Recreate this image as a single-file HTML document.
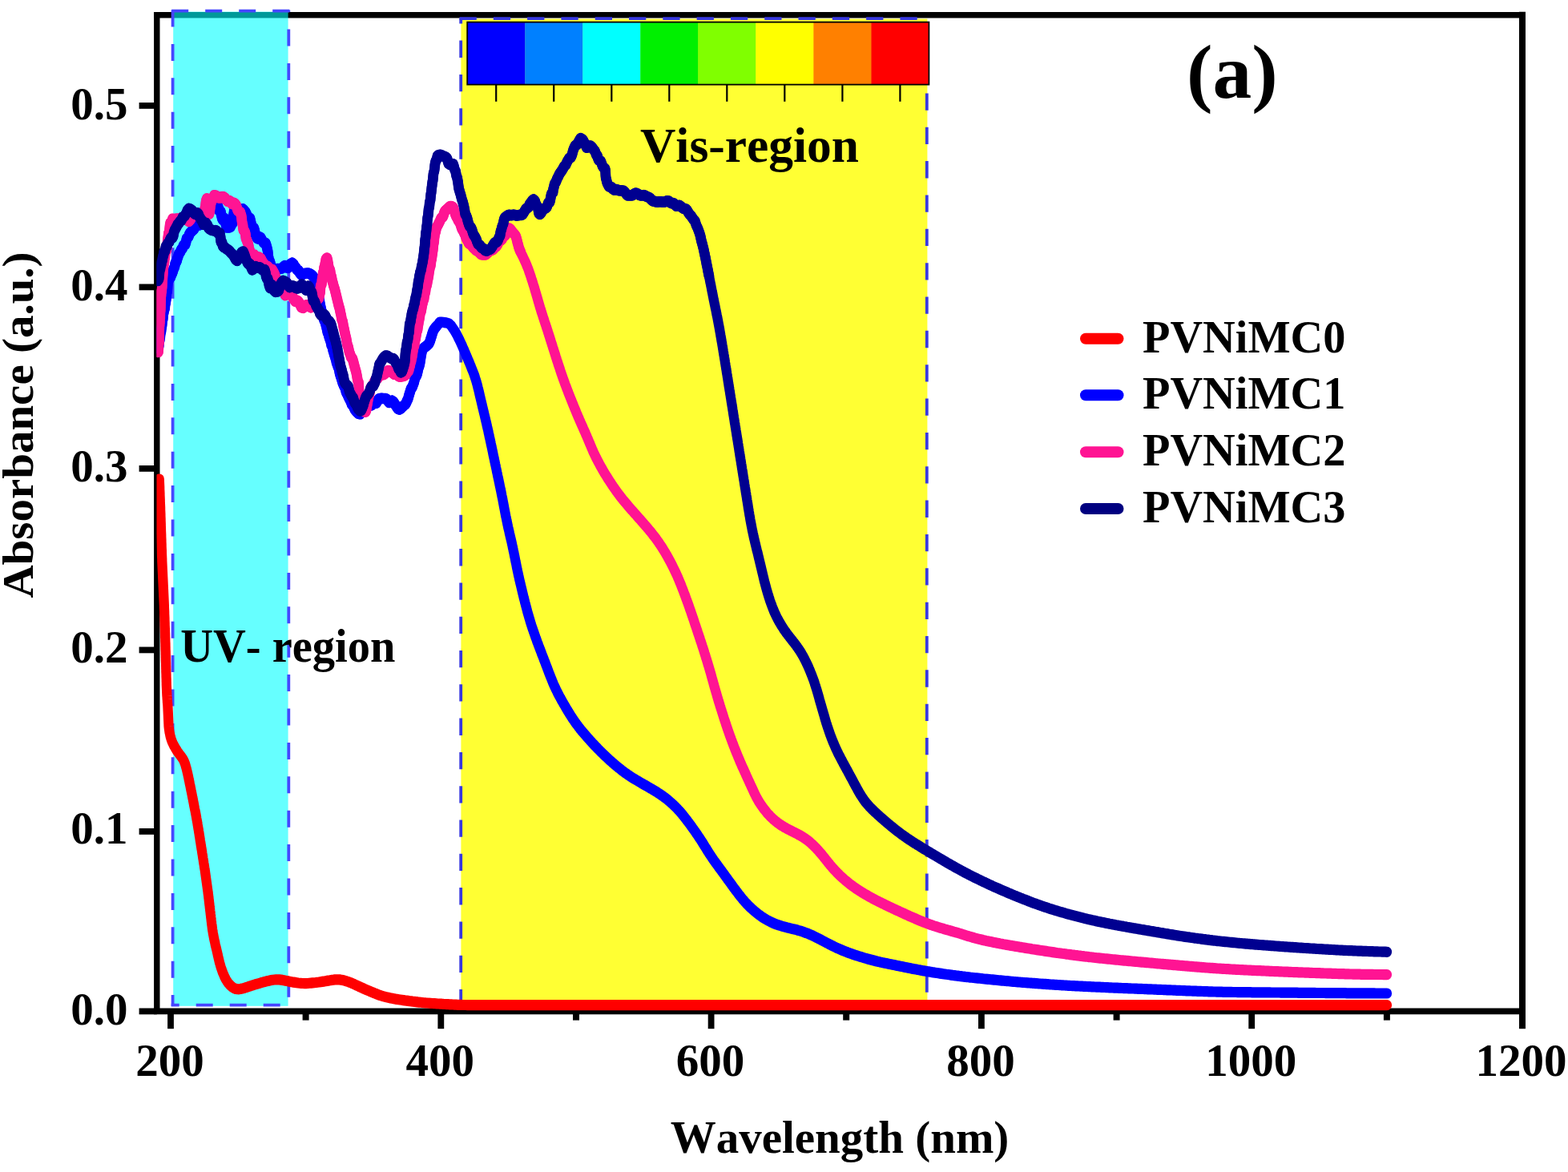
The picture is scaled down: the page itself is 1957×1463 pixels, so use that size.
<!DOCTYPE html>
<html lang="en">
<head>
<meta charset="utf-8">
<title>UV-Vis absorbance spectra (a)</title>
<style>
html,body{margin:0;padding:0;background:#fff;}
body{width:1957px;height:1463px;overflow:hidden;}
svg{display:block;}
text{font-family:"Liberation Serif",serif;font-weight:bold;fill:#000;font-kerning:none;}
.tick{font-size:57px;}
.lbl{font-size:57px;}
.leg{font-size:57px;}
.curve{fill:none;stroke-linecap:round;stroke-linejoin:round;stroke-width:13;}
</style>
</head>
<body>
<svg width="1957" height="1463" viewBox="0 0 1957 1463" role="img" aria-label="UV-Vis absorbance spectra of PVNiMC0-3">
<rect x="0" y="0" width="1957" height="1463" fill="#ffffff"/>

<g id="frame" fill="none" stroke="#000" stroke-linecap="square">
<line x1="195.8" y1="18.7" x2="1900.0" y2="18.7" stroke-width="7.6"/>
<line x1="195.8" y1="1262.4" x2="1900.0" y2="1262.4" stroke-width="7.8"/>
<line x1="195.8" y1="18.7" x2="195.8" y2="1262.4" stroke-width="7.4"/>
<line x1="1900.0" y1="18.7" x2="1900.0" y2="1262.4" stroke-width="8.0"/>
</g>
<g id="ticks" stroke="#000" stroke-width="7.6" stroke-linecap="butt">
<line x1="213.0" y1="1262.4" x2="213.0" y2="1284.2" stroke-width="7.8"/>
<line x1="550.3" y1="1262.4" x2="550.3" y2="1284.2" stroke-width="7.8"/>
<line x1="887.6" y1="1262.4" x2="887.6" y2="1284.2" stroke-width="7.8"/>
<line x1="1224.9" y1="1262.4" x2="1224.9" y2="1284.2" stroke-width="7.8"/>
<line x1="1562.2" y1="1262.4" x2="1562.2" y2="1284.2" stroke-width="7.8"/>
<line x1="1900.0" y1="1262.4" x2="1900.0" y2="1284.2" stroke-width="8.0"/>
<line x1="381.6" y1="1262.4" x2="381.6" y2="1273.6" stroke-width="8"/>
<line x1="719.0" y1="1262.4" x2="719.0" y2="1273.6" stroke-width="8"/>
<line x1="1056.2" y1="1262.4" x2="1056.2" y2="1273.6" stroke-width="8"/>
<line x1="1393.6" y1="1262.4" x2="1393.6" y2="1273.6" stroke-width="8"/>
<line x1="1730.9" y1="1262.4" x2="1730.9" y2="1273.6" stroke-width="8"/>
<line x1="173.6" y1="1262.4" x2="195.8" y2="1262.4" stroke-width="7.8"/>
<line x1="173.6" y1="1037.9" x2="195.8" y2="1037.9" stroke-width="7.8"/>
<line x1="173.6" y1="811.4" x2="195.8" y2="811.4" stroke-width="7.8"/>
<line x1="173.6" y1="584.9" x2="195.8" y2="584.9" stroke-width="7.8"/>
<line x1="173.6" y1="358.4" x2="195.8" y2="358.4" stroke-width="7.8"/>
<line x1="173.6" y1="131.9" x2="195.8" y2="131.9" stroke-width="7.8"/>
</g>
<g id="regions">
<rect x="216.2" y="14.6" width="143.4" height="1241.2" fill="#00ffff" fill-opacity="0.6"/>
<line x1="215.6" y1="12.5" x2="215.6" y2="1256" stroke="#4646ff" stroke-width="3.8" stroke-dasharray="21 21.40" stroke-dashoffset="0.00"/>
<line x1="360.3" y1="12.5" x2="360.3" y2="1256" stroke="#4646ff" stroke-width="3.8" stroke-dasharray="21 21.40" stroke-dashoffset="18.40"/>
<line x1="213.7" y1="13.6" x2="362.2" y2="13.6" stroke="#4646ff" stroke-width="3.8" stroke-dasharray="21 21.00" stroke-dashoffset="41.50"/>
<line x1="213.7" y1="1254.6" x2="362.2" y2="1254.6" stroke="#4646ff" stroke-width="3.8" stroke-dasharray="21 21.00" stroke-dashoffset="11.00"/>
<rect x="575.4" y="23.5" width="582" height="1226.5" fill="#ffff00" fill-opacity="0.8"/>
<line x1="575.2" y1="23" x2="575.2" y2="1250" stroke="#3838e0" stroke-width="3.8" stroke-dasharray="21.3 21.00" stroke-dashoffset="14.70"/>
<line x1="1156.8" y1="23" x2="1156.8" y2="1250" stroke="#3838e0" stroke-width="3.8" stroke-dasharray="21.3 21.05" stroke-dashoffset="33.65"/>
<line x1="573.5" y1="23.2" x2="1158.4" y2="23.2" stroke="#3838e0" stroke-width="3.8" stroke-dasharray="21.3 21.00" stroke-dashoffset="0.00"/>
<line x1="573.5" y1="1250" x2="1158.4" y2="1250" stroke="#3838e0" stroke-width="3.8" stroke-dasharray="21.3 21.00" stroke-dashoffset="0.00"/>
</g>
<g id="colourbar">
<rect x="583.20" y="27.6" width="72.33" height="78.0" fill="#0000ff"/>
<rect x="655.23" y="27.6" width="72.33" height="78.0" fill="#0080ff"/>
<rect x="727.25" y="27.6" width="72.33" height="78.0" fill="#00ffff"/>
<rect x="799.28" y="27.6" width="72.33" height="78.0" fill="#00f000"/>
<rect x="871.30" y="27.6" width="72.33" height="78.0" fill="#80ff00"/>
<rect x="943.33" y="27.6" width="72.33" height="78.0" fill="#ffff00"/>
<rect x="1015.35" y="27.6" width="72.33" height="78.0" fill="#ff8000"/>
<rect x="1087.38" y="27.6" width="72.33" height="78.0" fill="#ff0000"/>
<rect x="583.2" y="27.6" width="576.2" height="78.0" fill="none" stroke="#000" stroke-width="1.8"/>
<line x1="619.2" y1="105.6" x2="619.2" y2="126.8" stroke="#000" stroke-width="2.2"/>
<line x1="691.2" y1="105.6" x2="691.2" y2="126.8" stroke="#000" stroke-width="2.2"/>
<line x1="763.3" y1="105.6" x2="763.3" y2="126.8" stroke="#000" stroke-width="2.2"/>
<line x1="835.3" y1="105.6" x2="835.3" y2="126.8" stroke="#000" stroke-width="2.2"/>
<line x1="907.3" y1="105.6" x2="907.3" y2="126.8" stroke="#000" stroke-width="2.2"/>
<line x1="979.3" y1="105.6" x2="979.3" y2="126.8" stroke="#000" stroke-width="2.2"/>
<line x1="1051.4" y1="105.6" x2="1051.4" y2="126.8" stroke="#000" stroke-width="2.2"/>
<line x1="1123.4" y1="105.6" x2="1123.4" y2="126.8" stroke="#000" stroke-width="2.2"/>
</g>
<clipPath id="plotclip"><rect x="195.5" y="19" width="1705" height="1250"/></clipPath>
<g id="curves" clip-path="url(#plotclip)"><g transform="scale(0.93,1)">
<g stroke="#ff0000">
<path class="curve" style="stroke-width:13.2" d="M213.8,598.0 213.8,600.0 213.9,602.0 214.0,604.0 214.1,606.0 214.2,608.0 214.2,610.0 214.3,612.0 214.4,614.0 214.5,616.0 214.5,618.0 214.6,620.0 214.7,622.0 214.8,624.0 214.8,626.0 214.9,628.0 215.0,630.0 215.1,632.0 215.2,634.0 215.2,636.0 215.3,638.0 215.4,640.0 215.5,642.0 215.5,644.0 215.6,646.1 215.7,648.1 215.7,650.1 215.8,652.1 215.9,654.1 215.9,656.1 216.0,658.1 216.1,660.1 216.1,662.1 216.2,664.1 216.3,666.1 216.4,668.1 216.4,670.1 216.5,672.1 216.6,674.1 216.6,676.1 216.7,678.1 216.8,680.1 216.8,682.1 216.9,684.1 217.0,686.1 217.1,688.1 217.1,690.1 217.2,692.1 217.3,694.1 217.4,696.1 217.5,698.1 217.5,700.1 217.6,702.1 217.7,704.1 217.8,706.1 217.9,708.1 218.0,710.1 218.1,712.1 218.2,714.1 218.3,716.1 218.4,718.1 218.5,720.1 218.6,722.1 218.7,724.1 218.8,726.1 218.9,728.1 219.0,730.1 219.1,732.1 219.2,734.1 219.3,736.1 219.4,738.1 219.5,740.1 219.6,742.1 219.7,744.1 219.8,746.1 219.9,748.1 220.0,750.1 220.1,752.1 220.2,754.2 220.3,756.2 220.3,758.2 220.4,760.2 220.5,762.2 220.6,764.2 220.6,766.2 220.7,768.2 220.8,770.2 220.9,772.2 220.9,774.2 221.0,776.2 221.1,778.2 221.1,780.2 221.2,782.2 221.3,784.2 221.4,786.2 221.4,788.2 221.5,790.2 221.6,792.2 221.6,794.2 221.7,796.2 221.8,798.2 221.8,800.2 221.9,802.2 222.0,804.2 222.0,806.2 222.1,808.2 222.1,810.2 222.2,812.2 222.3,814.2 222.3,816.2 222.4,818.2 222.4,820.2 222.5,822.2 222.5,824.2 222.6,826.2 222.7,828.2 222.7,830.2 222.8,832.2 222.8,834.2 222.9,836.3 222.9,838.3 223.0,840.3 223.1,842.3 223.1,844.3 223.2,846.3 223.3,848.3 223.3,850.3 223.4,852.3 223.4,854.3 223.5,856.3 223.6,858.3 223.7,860.3 223.8,862.3 223.9,864.3 224.0,866.3 224.1,868.3 224.3,870.3 224.4,872.3 224.6,874.3 224.7,876.3 224.9,878.3 225.1,880.3 225.2,882.3 225.3,884.3 225.4,886.3 225.5,888.3 225.6,890.3 225.7,892.3 225.8,894.3 225.9,896.3 226.0,898.3 226.1,900.3 226.2,902.3 226.3,904.3 226.4,906.3 226.6,908.3 226.9,910.3 227.2,912.2 227.5,914.2 228.0,916.2 228.4,918.1 228.9,920.1 229.5,922.0 230.2,923.9 230.9,925.8 231.8,927.6 232.7,929.4 233.7,931.2 234.8,932.9 235.9,934.7 237.0,936.4 238.2,938.1 239.4,939.7 240.7,941.3 242.0,942.9 243.3,944.5 244.5,946.1 245.7,947.8 246.7,949.5 247.5,951.4 248.3,953.2 248.9,955.1 249.5,957.1 250.1,959.0 250.6,960.9 251.1,962.9 251.6,964.8 252.1,966.8 252.5,968.7 253.0,970.7 253.4,972.7 253.9,974.6 254.3,976.6 254.7,978.6 255.2,980.5 255.6,982.5 256.0,984.4 256.4,986.4 256.9,988.4 257.3,990.3 257.7,992.3 258.1,994.3 258.5,996.2 259.0,998.2 259.4,1000.2 259.8,1002.1 260.2,1004.1 260.6,1006.1 261.0,1008.0 261.4,1010.0 261.9,1012.0 262.3,1013.9 262.7,1015.9 263.1,1017.9 263.5,1019.8 263.8,1021.8 264.2,1023.8 264.6,1025.7 265.0,1027.7 265.3,1029.7 265.7,1031.7 266.0,1033.6 266.4,1035.6 266.7,1037.6 267.1,1039.6 267.4,1041.6 267.7,1043.5 268.1,1045.5 268.4,1047.5 268.7,1049.5 269.1,1051.5 269.4,1053.4 269.7,1055.4 270.1,1057.4 270.4,1059.4 270.8,1061.3 271.1,1063.3 271.4,1065.3 271.8,1067.3 272.1,1069.3 272.4,1071.2 272.8,1073.2 273.1,1075.2 273.4,1077.2 273.8,1079.2 274.1,1081.1 274.4,1083.1 274.8,1085.1 275.1,1087.1 275.4,1089.1 275.7,1091.0 276.0,1093.0 276.3,1095.0 276.6,1097.0 276.9,1099.0 277.2,1101.0 277.5,1102.9 277.8,1104.9 278.1,1106.9 278.4,1108.9 278.7,1110.9 279.0,1112.9 279.2,1114.9 279.5,1116.8 279.8,1118.8 280.0,1120.8 280.3,1122.8 280.5,1124.8 280.8,1126.8 281.0,1128.8 281.3,1130.8 281.5,1132.8 281.8,1134.8 282.0,1136.7 282.3,1138.7 282.5,1140.7 282.8,1142.7 283.0,1144.7 283.3,1146.7 283.5,1148.7 283.8,1150.7 284.0,1152.7 284.3,1154.7 284.6,1156.6 284.8,1158.6 285.1,1160.6 285.5,1162.6 285.8,1164.6 286.2,1166.5 286.6,1168.5 287.0,1170.5 287.4,1172.4 287.9,1174.4 288.4,1176.3 288.8,1178.3 289.3,1180.3 289.8,1182.2 290.3,1184.2 290.8,1186.1 291.3,1188.1 291.8,1190.0 292.2,1192.0 292.7,1193.9 293.2,1195.9 293.7,1197.8 294.2,1199.8 294.7,1201.7 295.3,1203.6 295.9,1205.6 296.5,1207.5 297.2,1209.4 297.9,1211.3 298.6,1213.2 299.4,1215.0 300.3,1216.9 301.1,1218.7 302.0,1220.5 303.0,1222.3 304.1,1224.0 305.2,1225.7 306.5,1227.3 307.9,1228.8 309.4,1230.2 311.0,1231.6 312.7,1232.7 314.5,1233.7 316.5,1234.4 318.5,1234.7 320.6,1234.8 322.7,1234.5 324.8,1234.1 326.9,1233.6 328.9,1233.0 331.0,1232.4 333.0,1231.8 335.1,1231.1 337.1,1230.5 339.2,1229.9 341.2,1229.3 343.3,1228.7 345.4,1228.1 347.4,1227.6 349.5,1227.0 351.5,1226.4 353.6,1225.9 355.7,1225.3 357.8,1224.8 359.9,1224.4 362.0,1224.0 364.1,1223.6 366.2,1223.2 368.3,1223.0 370.5,1222.8 372.6,1222.8 374.8,1222.9 376.9,1223.1 379.0,1223.4 381.1,1223.8 383.2,1224.2 385.3,1224.6 387.5,1225.0 389.6,1225.4 391.7,1225.8 393.8,1226.1 395.9,1226.4 398.1,1226.7 400.2,1227.0 402.3,1227.2 404.5,1227.4 406.6,1227.5 408.8,1227.6 410.9,1227.6 413.1,1227.5 415.2,1227.3 417.4,1227.1 419.5,1226.9 421.6,1226.7 423.8,1226.5 425.9,1226.2 428.1,1226.0 430.2,1225.7 432.3,1225.4 434.5,1225.1 436.6,1224.8 438.7,1224.4 440.8,1224.1 442.9,1223.8 445.1,1223.4 447.2,1223.2 449.3,1222.9 451.5,1222.8 453.6,1222.8 455.8,1222.9 457.9,1223.2 460.0,1223.6 462.1,1224.0 464.2,1224.6 466.2,1225.2 468.2,1225.8 470.2,1226.6 472.2,1227.3 474.2,1228.1 476.2,1229.0 478.1,1229.8 480.1,1230.6 482.0,1231.5 484.0,1232.3 485.9,1233.2 487.9,1234.0 489.9,1234.8 491.8,1235.6 493.8,1236.4 495.8,1237.2 497.8,1238.0 499.8,1238.7 501.8,1239.5 503.8,1240.2 505.8,1241.0 507.8,1241.7 509.8,1242.4 511.9,1243.0 513.9,1243.6 516.0,1244.1 518.1,1244.6 520.2,1245.1 522.3,1245.5 524.4,1245.9 526.5,1246.3 528.6,1246.7 530.7,1247.1 532.8,1247.4 535.0,1247.7 537.1,1248.0 539.2,1248.3 541.4,1248.6 543.5,1248.9 545.6,1249.1 547.8,1249.4 549.9,1249.7 552.0,1249.9 554.2,1250.2 556.3,1250.4 558.5,1250.6 560.6,1250.9 562.7,1251.1 564.9,1251.3 567.0,1251.5 569.2,1251.7 571.3,1251.9 573.5,1252.0 575.6,1252.2 577.8,1252.3 579.9,1252.5 582.1,1252.6 584.2,1252.7 586.4,1252.9 588.5,1253.0 590.7,1253.1 592.8,1253.2 595.0,1253.4 597.1,1253.5 599.3,1253.6 601.4,1253.7 603.6,1253.8 605.7,1253.9 607.9,1254.0 610.0,1254.1 612.2,1254.2 614.3,1254.3 616.5,1254.3 618.6,1254.4 620.8,1254.5 622.9,1254.5 625.1,1254.5 627.2,1254.6 629.4,1254.6 631.5,1254.6 633.6,1254.6 635.5,1254.7 637.1,1254.7 638.6,1254.7 640.2,1254.7 642.1,1254.7 644.2,1254.7 646.3,1254.7 648.5,1254.7 650.6,1254.7 652.8,1254.7 654.9,1254.7 657.1,1254.7 659.2,1254.7 661.4,1254.7 663.5,1254.7 665.7,1254.7 667.9,1254.7 670.0,1254.7 672.2,1254.7 674.3,1254.7 676.5,1254.7 678.6,1254.7 680.8,1254.7 682.9,1254.7 685.1,1254.7 687.2,1254.7 689.4,1254.7 691.6,1254.7 693.7,1254.7 695.9,1254.7 698.0,1254.7 700.2,1254.7 702.3,1254.7 704.5,1254.7 706.6,1254.7 708.8,1254.7 710.9,1254.7 713.1,1254.7 715.2,1254.7 717.4,1254.7 719.6,1254.7 721.7,1254.7 723.9,1254.7 726.0,1254.7 728.2,1254.7 730.3,1254.7 732.5,1254.7 734.6,1254.7 736.8,1254.7 738.9,1254.7 741.1,1254.7 743.3,1254.7 745.4,1254.7 747.6,1254.7 749.7,1254.7 751.9,1254.7 754.0,1254.7 756.2,1254.7 758.3,1254.7 760.5,1254.7 762.6,1254.7 764.8,1254.7 766.9,1254.7 769.1,1254.7 771.3,1254.7 773.4,1254.7 775.6,1254.7 777.7,1254.7 779.9,1254.7 782.0,1254.7 784.2,1254.7 786.3,1254.7 788.5,1254.7 790.6,1254.7 792.8,1254.7 795.0,1254.7 797.1,1254.7 799.3,1254.7 801.4,1254.7 803.6,1254.7 805.7,1254.7 807.9,1254.7 810.0,1254.6 812.2,1254.7 814.3,1254.7 816.5,1254.6 818.6,1254.7 820.8,1254.6 823.0,1254.7 825.1,1254.7 827.3,1254.7 829.4,1254.7 831.6,1254.7 833.7,1254.7 835.9,1254.7 838.0,1254.7 840.2,1254.7 842.3,1254.7 844.5,1254.7 846.7,1254.7 848.8,1254.7 851.0,1254.7 853.1,1254.7 855.3,1254.7 857.4,1254.7 859.6,1254.7 861.7,1254.7 863.9,1254.7 866.0,1254.7 868.2,1254.7 870.4,1254.6 872.5,1254.6 874.7,1254.6 876.8,1254.7 879.0,1254.7 881.1,1254.7 883.3,1254.7 885.4,1254.7 887.6,1254.7 889.7,1254.7 891.9,1254.6 894.0,1254.7 896.2,1254.6 898.4,1254.7 900.5,1254.7 902.7,1254.7 904.8,1254.7 907.0,1254.7 909.1,1254.7 911.3,1254.7 913.4,1254.7 915.6,1254.7 917.7,1254.7 919.9,1254.7 922.1,1254.7 924.2,1254.7 926.4,1254.7 928.5,1254.7 930.7,1254.6 932.8,1254.6 935.0,1254.7 937.1,1254.7 939.3,1254.6 941.4,1254.7 943.6,1254.6 945.7,1254.7 947.9,1254.7 950.1,1254.7 952.2,1254.7 954.4,1254.7 956.5,1254.7 958.7,1254.7 960.8,1254.6 963.0,1254.6 965.1,1254.7 967.3,1254.7 969.4,1254.7 971.6,1254.7 973.8,1254.7 975.9,1254.7 978.1,1254.7 980.2,1254.7 982.4,1254.7 984.5,1254.7 986.7,1254.7 988.8,1254.6 991.0,1254.6 993.1,1254.7 995.3,1254.6 997.4,1254.7 999.6,1254.7 1001.8,1254.7 1003.9,1254.7 1006.1,1254.7 1008.2,1254.7 1010.4,1254.7 1012.5,1254.7 1014.7,1254.7 1016.8,1254.7 1019.0,1254.7 1021.1,1254.7 1023.3,1254.6 1025.5,1254.6 1027.6,1254.7 1029.8,1254.6 1031.9,1254.7 1034.1,1254.7 1036.2,1254.7 1038.4,1254.7 1040.5,1254.7 1042.7,1254.7 1044.8,1254.7 1047.0,1254.7 1049.2,1254.7 1051.3,1254.7 1053.5,1254.7 1055.6,1254.7 1057.8,1254.7 1059.9,1254.7 1062.1,1254.7 1064.2,1254.7 1066.4,1254.7 1068.5,1254.7 1070.7,1254.7 1072.8,1254.7 1075.0,1254.7 1077.2,1254.7 1079.3,1254.7 1081.5,1254.7 1083.6,1254.7 1085.8,1254.7 1087.9,1254.7 1090.1,1254.7 1092.2,1254.6 1094.4,1254.7 1096.5,1254.7 1098.7,1254.7 1100.9,1254.7 1103.0,1254.7 1105.2,1254.7 1107.3,1254.7 1109.5,1254.7 1111.6,1254.7 1113.8,1254.7 1115.9,1254.7 1118.1,1254.7 1120.2,1254.7 1122.4,1254.7 1124.5,1254.7 1126.7,1254.7 1128.9,1254.7 1131.0,1254.7 1133.2,1254.7 1135.3,1254.6 1137.5,1254.6 1139.6,1254.7 1141.8,1254.7 1143.9,1254.7 1146.1,1254.7 1148.2,1254.7 1150.4,1254.7 1152.6,1254.7 1154.7,1254.7 1156.9,1254.7 1159.0,1254.7 1161.2,1254.7 1163.3,1254.7 1165.5,1254.7 1167.6,1254.7 1169.8,1254.7 1171.9,1254.7 1174.1,1254.7 1176.2,1254.7 1178.4,1254.7 1180.6,1254.7 1182.7,1254.7 1184.9,1254.7 1187.0,1254.7 1189.2,1254.6 1191.3,1254.7 1193.5,1254.7 1195.6,1254.7 1197.8,1254.7 1199.9,1254.7 1202.1,1254.7 1204.3,1254.7 1206.4,1254.7 1208.6,1254.6 1210.7,1254.7 1212.9,1254.7 1215.0,1254.6 1217.2,1254.6 1219.3,1254.7 1221.5,1254.6 1223.6,1254.7 1225.8,1254.7 1228.0,1254.7 1230.1,1254.7 1232.3,1254.7 1234.4,1254.7 1236.6,1254.7 1238.7,1254.7 1240.9,1254.7 1243.0,1254.7 1245.2,1254.7 1247.3,1254.7 1249.5,1254.6 1251.6,1254.7 1253.8,1254.6 1256.0,1254.6 1258.1,1254.7 1260.3,1254.7 1262.4,1254.7 1264.6,1254.7 1266.7,1254.7 1268.9,1254.6 1271.0,1254.6 1273.2,1254.7 1275.3,1254.6 1277.5,1254.7 1279.7,1254.7 1281.8,1254.7 1284.0,1254.7 1286.1,1254.7 1288.3,1254.7 1290.4,1254.7 1292.6,1254.7 1294.7,1254.7 1296.9,1254.7 1299.0,1254.7 1301.2,1254.7 1303.3,1254.7 1305.5,1254.7 1307.7,1254.7 1309.8,1254.7 1312.0,1254.7 1314.1,1254.7 1316.3,1254.6 1318.4,1254.7 1320.6,1254.7 1322.7,1254.7 1324.9,1254.7 1327.0,1254.7 1329.2,1254.7 1331.4,1254.7 1333.5,1254.7 1335.7,1254.7 1337.8,1254.7 1340.0,1254.7 1342.1,1254.7 1344.3,1254.7 1346.4,1254.7 1348.6,1254.7 1350.7,1254.7 1352.9,1254.7 1355.0,1254.7 1357.2,1254.7 1359.4,1254.7 1361.5,1254.6 1363.7,1254.7 1365.8,1254.7 1368.0,1254.7 1370.1,1254.6 1372.3,1254.7 1374.4,1254.7 1376.6,1254.7 1378.7,1254.7 1380.9,1254.7 1383.1,1254.7 1385.2,1254.7 1387.4,1254.6 1389.5,1254.7 1391.7,1254.7 1393.8,1254.7 1396.0,1254.7 1398.1,1254.7 1400.3,1254.7 1402.4,1254.7 1404.6,1254.7 1406.8,1254.7 1408.9,1254.7 1411.1,1254.7 1413.2,1254.7 1415.4,1254.7 1417.5,1254.7 1419.7,1254.7 1421.8,1254.7 1424.0,1254.7 1426.1,1254.7 1428.3,1254.7 1430.4,1254.7 1432.6,1254.7 1434.8,1254.7 1436.9,1254.7 1439.1,1254.7 1441.2,1254.6 1443.4,1254.7 1445.5,1254.7 1447.7,1254.7 1449.8,1254.7 1452.0,1254.7 1454.1,1254.7 1456.3,1254.7 1458.5,1254.7 1460.6,1254.7 1462.8,1254.7 1464.9,1254.6 1467.1,1254.7 1469.2,1254.7 1471.4,1254.7 1473.5,1254.7 1475.7,1254.7 1477.8,1254.7 1480.0,1254.7 1482.1,1254.7 1484.3,1254.7 1486.5,1254.7 1488.6,1254.7 1490.8,1254.7 1492.9,1254.7 1495.1,1254.7 1497.2,1254.7 1499.4,1254.7 1501.5,1254.7 1503.7,1254.7 1505.8,1254.7 1508.0,1254.7 1510.2,1254.7 1512.3,1254.7 1514.5,1254.7 1516.6,1254.7 1518.8,1254.7 1520.9,1254.7 1523.1,1254.7 1525.2,1254.6 1527.4,1254.7 1529.5,1254.7 1531.7,1254.7 1533.8,1254.7 1536.0,1254.7 1538.2,1254.7 1540.3,1254.7 1542.5,1254.7 1544.6,1254.7 1546.8,1254.7 1548.9,1254.7 1551.1,1254.7 1553.2,1254.7 1555.4,1254.7 1557.5,1254.7 1559.7,1254.7 1561.9,1254.7 1564.0,1254.7 1566.2,1254.7 1568.3,1254.7 1570.5,1254.7 1572.6,1254.7 1574.8,1254.7 1576.9,1254.7 1579.1,1254.7 1581.2,1254.7 1583.4,1254.7 1585.6,1254.7 1587.7,1254.7 1589.9,1254.7 1592.0,1254.7 1594.2,1254.7 1596.3,1254.7 1598.5,1254.7 1600.6,1254.7 1602.8,1254.7 1604.9,1254.7 1607.1,1254.7 1609.2,1254.7 1611.4,1254.7 1613.6,1254.7 1615.7,1254.7 1617.9,1254.7 1620.0,1254.7 1622.2,1254.7 1624.3,1254.7 1626.5,1254.7 1628.6,1254.7 1630.8,1254.7 1632.9,1254.7 1635.1,1254.7 1637.3,1254.7 1639.4,1254.7 1641.6,1254.7 1643.7,1254.7 1645.9,1254.7 1648.0,1254.7 1650.2,1254.7 1652.3,1254.7 1654.5,1254.7 1656.6,1254.7 1658.8,1254.7 1660.9,1254.7 1663.1,1254.7 1665.3,1254.7 1667.4,1254.7 1669.6,1254.7 1671.7,1254.7 1673.9,1254.7 1676.0,1254.7 1678.2,1254.7 1680.3,1254.7 1682.5,1254.7 1684.6,1254.7 1686.8,1254.7 1689.0,1254.7 1691.1,1254.7 1693.3,1254.7 1695.4,1254.7 1697.6,1254.7 1699.7,1254.7 1701.9,1254.7 1704.0,1254.7 1706.2,1254.7 1708.3,1254.7 1710.5,1254.7 1712.6,1254.7 1714.8,1254.7 1717.0,1254.7 1719.1,1254.7 1721.3,1254.7 1723.4,1254.7 1725.6,1254.7 1727.7,1254.7 1729.9,1254.7 1732.0,1254.7 1734.2,1254.7 1736.3,1254.7 1738.5,1254.7 1740.7,1254.7 1742.8,1254.7 1745.0,1254.7 1747.1,1254.7 1749.3,1254.7 1751.4,1254.7 1753.6,1254.7 1755.7,1254.7 1757.9,1254.7 1760.0,1254.7 1762.2,1254.7 1764.4,1254.7 1766.5,1254.7 1768.7,1254.7 1770.8,1254.7 1773.0,1254.7 1775.1,1254.7 1777.3,1254.7 1779.4,1254.7 1781.6,1254.7 1783.7,1254.7 1785.9,1254.7 1788.0,1254.7 1790.2,1254.7 1792.4,1254.7 1794.5,1254.7 1796.7,1254.7 1798.8,1254.7 1801.0,1254.7 1803.1,1254.7 1805.3,1254.7 1807.4,1254.7 1809.6,1254.7 1811.7,1254.7 1813.9,1254.7 1816.1,1254.7 1818.2,1254.7 1820.4,1254.7 1822.5,1254.7 1824.7,1254.7 1826.8,1254.6 1829.0,1254.7 1831.1,1254.7 1833.3,1254.7 1835.4,1254.7 1837.6,1254.7 1839.7,1254.7 1841.9,1254.7 1844.1,1254.7 1846.2,1254.7 1848.4,1254.7 1850.5,1254.7 1852.7,1254.7 1854.8,1254.7 1857.0,1254.7 1859.1,1254.7 1861.3,1254.7"/>
</g>
<g stroke="#0000ff">
<path class="curve" style="stroke-width:13.2" d="M212.4,434.8 212.7,433.3 213.0,432.5 213.3,430.8 213.5,427.9 213.8,425.0 214.1,425.2 214.4,423.8 214.8,421.3 215.1,418.3 215.4,416.0 215.7,415.4 216.1,413.8 216.5,410.7 216.9,408.5 217.3,406.3 217.7,402.1 218.1,399.3 218.5,398.6 218.8,395.5 219.2,391.7 219.6,390.6 219.9,389.3 220.2,386.5 220.5,384.9 220.8,385.8 221.1,385.6 221.4,382.4 221.7,379.7 222.0,379.2 222.3,377.9 222.6,375.5 222.8,374.4 223.1,372.6 223.4,368.7 223.7,365.6 224.0,364.9 224.3,364.2 224.6,361.6 224.9,356.9 225.2,353.6 225.6,351.0 225.9,349.1 226.3,349.7 226.7,349.2 227.2,347.6 227.9,347.7 228.7,346.5 229.7,344.0 230.8,341.8 231.9,339.0 232.9,335.5 233.7,334.6 234.5,332.3 235.2,328.5 235.8,327.6 236.5,327.1 237.2,325.6 237.9,323.0 238.7,321.0 239.4,319.0 240.2,316.7 241.1,315.8 242.0,314.4 242.9,312.4 243.8,310.7 244.7,310.3 245.6,308.4 246.6,305.9 247.5,305.3 248.5,305.3 249.5,302.4 250.6,297.6 251.8,296.7 253.0,295.4 254.2,292.2 255.5,290.2 256.7,289.5 258.0,287.3 259.3,287.1 260.6,285.6 262.0,281.0 263.3,278.4 264.7,277.6 266.0,279.2 267.3,281.0 268.7,278.4 270.0,272.2 271.2,270.5 272.5,272.3 273.8,272.3 275.0,268.7 276.3,265.1 277.7,263.7 279.1,262.3 280.7,260.1 282.4,258.8 284.1,258.9 286.0,258.3 288.0,256.7 290.1,255.3 291.7,255.6 293.0,259.0 294.1,262.8 295.1,263.0 296.1,264.0 297.1,268.7 298.1,272.7 299.2,274.8 300.3,273.8 301.2,272.5 302.2,274.5 303.2,280.8 304.2,284.0 305.2,281.8 306.3,281.8 307.6,284.0 309.3,283.1 310.1,281.1 310.8,280.0 311.3,279.7 311.8,279.0 312.2,276.7 312.7,274.3 313.1,271.0 313.7,267.1 314.3,262.4 314.9,261.3 315.5,262.5 316.1,261.4 316.9,260.7 317.9,260.4 319.8,261.0 321.5,262.1 322.9,262.4 324.3,261.5 325.7,261.0 327.0,262.0 328.3,263.4 329.5,264.7 330.8,267.3 332.0,270.4 333.2,272.4 334.3,272.3 335.4,272.5 336.4,276.3 337.4,280.8 338.4,284.0 339.5,284.6 340.5,284.2 341.5,287.0 342.6,292.2 343.9,295.2 345.3,297.7 346.8,297.9 348.3,295.8 349.8,296.7 351.2,299.1 352.5,301.0 353.5,302.5 354.5,303.5 355.5,303.5 356.4,303.5 357.2,305.7 358.0,308.3 358.7,310.9 359.3,313.6 359.7,317.1 360.0,319.9 360.3,321.3 360.6,322.6 360.9,323.7 361.4,324.7 362.1,326.4 362.8,328.6 363.6,331.5 364.4,333.7 365.3,334.9 366.4,335.6 367.9,337.6 370.0,336.9 372.1,335.7 374.1,335.6 376.1,335.4 378.1,335.0 380.2,333.3 382.2,331.6 384.3,332.6 386.3,334.5 388.3,332.5 390.1,329.3 392.1,328.3 394.0,329.9 395.4,333.0 396.8,333.7 398.0,335.9 399.4,337.4 400.7,337.6 402.3,340.7 404.4,343.1 406.4,342.4 408.5,341.5 410.6,341.2 412.6,341.0 414.5,341.3 416.4,342.1 418.0,343.1 419.5,344.2 420.8,346.0 421.8,347.3 422.6,349.1 423.3,352.0 423.8,354.6 424.3,356.2 424.8,357.6 425.2,359.5 425.7,361.3 426.1,363.1 426.5,364.9 426.9,366.6 427.3,368.8 427.8,370.8 428.2,372.8 428.6,374.7 429.0,376.8 429.4,378.9 429.8,381.0 430.3,383.0 430.8,385.0 431.2,387.0 431.8,388.6 432.3,390.2 432.9,392.4 433.5,394.6 434.1,396.5 434.7,398.6 435.3,400.4 436.0,401.3 436.6,402.6 437.2,405.1 437.9,407.5 438.5,410.0 439.2,413.1 439.8,415.4 440.4,416.5 441.1,418.5 441.7,420.8 442.4,422.8 443.0,424.4 443.6,425.8 444.3,428.5 444.9,431.2 445.5,432.3 446.1,433.2 446.6,435.7 447.2,438.1 447.7,439.4 448.2,441.0 448.8,443.1 449.3,444.4 449.9,446.3 450.5,448.1 451.1,449.9 451.7,452.8 452.3,454.4 452.9,455.6 453.5,457.7 454.1,458.9 454.7,459.9 455.3,462.5 455.9,465.7 456.6,468.2 457.2,470.0 457.9,471.7 458.5,473.7 459.2,475.8 459.9,478.1 460.7,479.7 461.4,481.4 462.1,482.8 462.9,483.8 463.7,486.2 464.5,489.3 465.3,491.0 466.1,492.2 466.9,493.9 467.7,495.6 468.6,497.4 469.5,499.0 470.4,500.6 471.3,502.4 472.2,504.9 473.2,506.0 474.2,506.9 475.2,509.2 476.3,511.4 477.6,513.0 479.1,514.4 481.2,516.3 483.2,516.7 485.0,513.9 486.8,511.9 488.5,510.6 490.1,508.7 491.9,506.5 493.7,505.9 495.6,506.2 497.5,506.0 499.3,505.3 501.2,503.7 503.0,503.4 504.9,503.2 506.7,500.4 508.4,498.1 510.2,497.5 512.2,497.3 514.3,497.5 516.4,497.5 518.4,497.9 520.3,500.1 522.2,502.4 524.1,501.8 526.0,500.3 527.8,501.4 529.4,503.6 530.9,505.8 532.5,508.1 534.1,510.3 536.1,511.0 538.1,509.8 539.9,508.0 541.6,506.5 543.0,505.5 544.3,504.4 545.4,502.3 546.3,500.1 547.2,498.7 548.0,496.4 548.8,493.7 549.6,491.2 550.3,489.1 551.1,486.7 551.8,484.7 552.5,484.4 553.3,483.2 554.0,481.3 554.7,479.6 555.5,477.6 556.2,474.8 556.9,472.2 557.6,470.9 558.3,470.0 559.0,468.8 559.7,467.0 560.4,464.4 561.0,461.4 561.7,459.2 562.3,457.9 562.8,456.3 563.3,454.4 563.7,452.3 564.0,450.1 564.4,448.0 564.7,446.1 565.0,444.2 565.4,442.4 565.8,440.4 566.3,438.4 567.1,436.5 568.3,434.9 569.9,433.5 571.6,432.3 573.3,431.1 574.9,429.7 576.1,428.0 576.9,426.2 577.6,424.3 578.2,422.4 578.9,420.5 579.5,418.6 580.1,416.6 580.8,414.7 581.5,412.9 582.6,411.1 583.8,409.5 585.2,407.9 586.6,406.4 588.1,405.0 589.2,403.3 590.3,402.0 592.4,402.1 594.6,402.3 596.7,402.6 598.8,402.9 600.9,403.4 602.9,404.2 604.5,405.6 605.9,407.1 607.1,408.7 608.3,410.4 609.5,412.0 610.6,413.7 611.7,415.4 612.7,417.1 613.7,418.9 614.7,420.7 615.6,422.5 616.6,424.3 617.5,426.1 618.4,427.9 619.3,429.7 620.2,431.5 621.0,433.4 621.9,435.2 622.8,437.0 623.6,438.9 624.5,440.7 625.3,442.6 626.1,444.4 627.0,446.3 627.8,448.1 628.6,449.9 629.5,451.8 630.3,453.6 631.1,455.5 631.9,457.3 632.7,459.2 633.5,461.1 634.3,462.9 635.1,464.8 635.9,466.7 636.6,468.5 637.3,470.4 637.9,472.3 638.6,474.2 639.2,476.1 639.8,478.1 640.4,480.0 640.9,481.9 641.4,483.9 642.0,485.8 642.5,487.8 643.0,489.7 643.4,491.6 643.9,493.6 644.4,495.5 644.9,497.5 645.4,499.5 645.9,501.4 646.4,503.4 646.9,505.3 647.4,507.3 647.9,509.2 648.4,511.1 648.9,513.1 649.4,515.0 649.9,517.0 650.4,518.9 650.9,520.9 651.4,522.8 651.9,524.8 652.4,526.7 652.9,528.7 653.3,530.6 653.8,532.6 654.3,534.5 654.8,536.5 655.3,538.4 655.7,540.4 656.2,542.4 656.6,544.3 657.1,546.3 657.6,548.2 658.0,550.2 658.5,552.1 658.9,554.1 659.4,556.1 659.8,558.0 660.3,560.0 660.7,561.9 661.2,563.9 661.6,565.9 662.0,567.8 662.5,569.8 662.9,571.7 663.4,573.7 663.8,575.7 664.3,577.6 664.7,579.6 665.2,581.5 665.6,583.5 666.1,585.5 666.5,587.4 666.9,589.4 667.4,591.3 667.8,593.3 668.3,595.3 668.7,597.2 669.2,599.2 669.6,601.1 670.1,603.1 670.5,605.1 670.9,607.0 671.4,609.0 671.8,610.9 672.3,612.9 672.7,614.9 673.1,616.8 673.5,618.8 674.0,620.8 674.4,622.7 674.8,624.7 675.2,626.7 675.6,628.6 676.0,630.6 676.4,632.6 676.8,634.5 677.2,636.5 677.6,638.5 678.0,640.4 678.4,642.4 678.8,644.4 679.3,646.3 679.7,648.3 680.1,650.2 680.6,652.2 681.0,654.2 681.5,656.1 681.9,658.1 682.4,660.0 682.9,662.0 683.4,663.9 683.8,665.9 684.3,667.8 684.8,669.8 685.3,671.7 685.8,673.7 686.3,675.6 686.8,677.6 687.2,679.5 687.7,681.5 688.1,683.5 688.6,685.4 689.0,687.4 689.5,689.3 689.9,691.3 690.3,693.3 690.8,695.2 691.2,697.2 691.6,699.2 692.0,701.1 692.5,703.1 692.9,705.0 693.3,707.0 693.7,709.0 694.2,710.9 694.6,712.9 695.1,714.9 695.5,716.8 696.0,718.8 696.5,720.7 696.9,722.7 697.4,724.6 697.9,726.6 698.4,728.5 698.9,730.5 699.4,732.4 699.9,734.4 700.4,736.3 700.9,738.3 701.4,740.2 701.9,742.2 702.4,744.1 702.9,746.0 703.5,748.0 704.0,749.9 704.5,751.9 705.1,753.8 705.6,755.8 706.2,757.7 706.7,759.6 707.3,761.6 707.8,763.5 708.4,765.4 709.0,767.4 709.6,769.3 710.2,771.2 710.8,773.1 711.4,775.0 712.0,777.0 712.7,778.9 713.3,780.8 714.0,782.7 714.7,784.6 715.4,786.5 716.1,788.4 716.8,790.3 717.5,792.1 718.2,794.0 718.9,795.9 719.7,797.8 720.4,799.7 721.1,801.6 721.9,803.4 722.6,805.3 723.4,807.2 724.2,809.1 724.9,810.9 725.7,812.8 726.5,814.7 727.2,816.6 728.0,818.4 728.8,820.3 729.6,822.2 730.3,824.0 731.1,825.9 731.9,827.8 732.6,829.6 733.4,831.5 734.2,833.4 734.9,835.3 735.7,837.1 736.4,839.0 737.2,840.9 738.0,842.7 738.8,844.6 739.6,846.5 740.4,848.3 741.2,850.2 742.0,852.0 742.8,853.9 743.7,855.7 744.6,857.5 745.5,859.3 746.4,861.1 747.4,862.9 748.3,864.7 749.3,866.5 750.3,868.3 751.3,870.0 752.4,871.8 753.4,873.6 754.5,875.3 755.5,877.0 756.6,878.8 757.7,880.5 758.7,882.2 759.8,884.0 760.9,885.7 762.0,887.4 763.2,889.1 764.3,890.8 765.4,892.5 766.6,894.2 767.8,895.9 768.9,897.6 770.2,899.2 771.4,900.9 772.6,902.5 773.9,904.1 775.2,905.7 776.5,907.3 777.8,908.9 779.1,910.5 780.5,912.0 781.8,913.6 783.2,915.1 784.6,916.6 786.0,918.1 787.4,919.6 788.9,921.2 790.3,922.6 791.7,924.1 793.2,925.6 794.6,927.1 796.1,928.5 797.6,930.0 799.1,931.5 800.6,932.9 802.1,934.3 803.6,935.8 805.1,937.2 806.6,938.6 808.1,940.0 809.7,941.4 811.2,942.8 812.8,944.2 814.4,945.5 815.9,946.9 817.5,948.3 819.1,949.6 820.7,950.9 822.3,952.3 824.0,953.6 825.6,954.9 827.2,956.2 828.9,957.4 830.6,958.7 832.3,959.9 833.9,961.2 835.7,962.4 837.4,963.6 839.1,964.8 840.9,965.9 842.6,967.1 844.4,968.2 846.2,969.3 848.0,970.4 849.8,971.4 851.7,972.5 853.5,973.5 855.4,974.5 857.2,975.5 859.1,976.6 860.9,977.6 862.8,978.6 864.7,979.6 866.5,980.5 868.4,981.5 870.3,982.6 872.1,983.6 874.0,984.6 875.8,985.6 877.7,986.6 879.5,987.7 881.4,988.7 883.2,989.8 885.0,990.9 886.8,992.0 888.5,993.1 890.3,994.3 892.0,995.5 893.7,996.7 895.4,997.9 897.0,999.2 898.7,1000.5 900.3,1001.8 901.9,1003.1 903.5,1004.5 905.0,1005.9 906.6,1007.3 908.1,1008.7 909.5,1010.1 911.0,1011.6 912.4,1013.1 913.8,1014.6 915.2,1016.1 916.6,1017.7 917.9,1019.2 919.3,1020.8 920.6,1022.4 921.9,1024.0 923.2,1025.6 924.5,1027.2 925.8,1028.8 927.0,1030.4 928.3,1032.0 929.5,1033.6 930.8,1035.3 932.0,1036.9 933.3,1038.6 934.5,1040.2 935.7,1041.8 936.9,1043.5 938.1,1045.2 939.3,1046.8 940.5,1048.5 941.7,1050.2 942.8,1051.9 944.0,1053.6 945.1,1055.3 946.2,1057.0 947.4,1058.7 948.5,1060.4 949.6,1062.1 950.8,1063.8 951.9,1065.5 953.1,1067.1 954.3,1068.8 955.5,1070.5 956.7,1072.1 957.9,1073.8 959.2,1075.4 960.4,1077.0 961.7,1078.6 963.0,1080.3 964.2,1081.9 965.5,1083.5 966.8,1085.1 968.1,1086.7 969.3,1088.3 970.6,1089.9 971.9,1091.6 973.1,1093.2 974.4,1094.8 975.7,1096.4 976.9,1098.1 978.2,1099.7 979.5,1101.3 980.7,1102.9 982.0,1104.5 983.3,1106.2 984.5,1107.8 985.8,1109.4 987.1,1111.0 988.4,1112.6 989.7,1114.2 991.0,1115.8 992.3,1117.4 993.6,1118.9 995.0,1120.5 996.3,1122.0 997.7,1123.6 999.1,1125.1 1000.6,1126.6 1002.0,1128.0 1003.5,1129.5 1005.0,1130.9 1006.5,1132.3 1008.1,1133.7 1009.7,1135.0 1011.3,1136.4 1012.9,1137.7 1014.6,1138.9 1016.2,1140.2 1017.9,1141.4 1019.7,1142.6 1021.4,1143.7 1023.2,1144.9 1025.0,1146.0 1026.8,1147.0 1028.6,1148.0 1030.5,1149.0 1032.4,1149.9 1034.3,1150.8 1036.2,1151.7 1038.2,1152.5 1040.1,1153.2 1042.1,1153.9 1044.1,1154.6 1046.2,1155.2 1048.2,1155.8 1050.3,1156.4 1052.4,1156.9 1054.4,1157.4 1056.5,1157.9 1058.6,1158.3 1060.7,1158.8 1062.8,1159.3 1064.9,1159.8 1067.0,1160.2 1069.0,1160.7 1071.1,1161.3 1073.2,1161.8 1075.2,1162.4 1077.3,1163.0 1079.3,1163.7 1081.3,1164.4 1083.3,1165.1 1085.3,1165.8 1087.3,1166.6 1089.2,1167.4 1091.2,1168.2 1093.1,1169.1 1095.0,1170.0 1097.0,1170.9 1098.9,1171.8 1100.8,1172.7 1102.7,1173.7 1104.6,1174.6 1106.5,1175.5 1108.4,1176.5 1110.3,1177.4 1112.2,1178.3 1114.1,1179.2 1116.0,1180.2 1118.0,1181.0 1119.9,1181.9 1121.9,1182.8 1123.8,1183.6 1125.8,1184.4 1127.7,1185.2 1129.7,1186.0 1131.7,1186.8 1133.7,1187.5 1135.7,1188.2 1137.7,1189.0 1139.7,1189.7 1141.8,1190.3 1143.8,1191.0 1145.8,1191.7 1147.9,1192.3 1149.9,1192.9 1152.0,1193.5 1154.0,1194.1 1156.1,1194.7 1158.1,1195.3 1160.2,1195.9 1162.3,1196.4 1164.3,1197.0 1166.4,1197.5 1168.5,1198.0 1170.6,1198.5 1172.7,1199.0 1174.7,1199.5 1176.8,1200.0 1178.9,1200.4 1181.0,1200.9 1183.1,1201.3 1185.2,1201.8 1187.3,1202.2 1189.4,1202.6 1191.5,1203.0 1193.7,1203.4 1195.8,1203.8 1197.9,1204.2 1200.0,1204.6 1202.1,1205.0 1204.2,1205.4 1206.3,1205.8 1208.4,1206.2 1210.5,1206.6 1212.7,1207.0 1214.8,1207.4 1216.9,1207.8 1219.0,1208.2 1221.1,1208.6 1223.2,1209.0 1225.3,1209.4 1227.4,1209.7 1229.6,1210.1 1231.7,1210.5 1233.8,1210.8 1235.9,1211.2 1238.0,1211.6 1240.2,1211.9 1242.3,1212.2 1244.4,1212.6 1246.5,1212.9 1248.6,1213.2 1250.8,1213.6 1252.9,1213.9 1255.0,1214.2 1257.2,1214.5 1259.3,1214.8 1261.4,1215.1 1263.5,1215.4 1265.7,1215.7 1267.8,1216.0 1269.9,1216.3 1272.1,1216.5 1274.2,1216.8 1276.3,1217.1 1278.5,1217.4 1280.6,1217.6 1282.7,1217.9 1284.9,1218.1 1287.0,1218.4 1289.1,1218.6 1291.3,1218.9 1293.4,1219.1 1295.6,1219.4 1297.7,1219.6 1299.8,1219.8 1302.0,1220.1 1304.1,1220.3 1306.3,1220.5 1308.4,1220.7 1310.5,1220.9 1312.7,1221.1 1314.8,1221.3 1317.0,1221.5 1319.1,1221.8 1321.3,1222.0 1323.4,1222.2 1325.5,1222.3 1327.7,1222.5 1329.8,1222.7 1332.0,1222.9 1334.1,1223.1 1336.3,1223.3 1338.4,1223.5 1340.5,1223.7 1342.7,1223.9 1344.8,1224.1 1347.0,1224.3 1349.1,1224.5 1351.3,1224.6 1353.4,1224.8 1355.6,1225.0 1357.7,1225.2 1359.8,1225.4 1362.0,1225.5 1364.1,1225.7 1366.3,1225.9 1368.4,1226.0 1370.6,1226.2 1372.7,1226.4 1374.9,1226.5 1377.0,1226.7 1379.2,1226.8 1381.3,1227.0 1383.5,1227.1 1385.6,1227.3 1387.8,1227.4 1389.9,1227.6 1392.1,1227.7 1394.2,1227.9 1396.3,1228.0 1398.5,1228.2 1400.6,1228.3 1402.8,1228.4 1404.9,1228.6 1407.1,1228.7 1409.2,1228.9 1411.4,1229.0 1413.5,1229.1 1415.7,1229.3 1417.8,1229.4 1420.0,1229.5 1422.1,1229.6 1424.3,1229.8 1426.4,1229.9 1428.6,1230.0 1430.7,1230.1 1432.9,1230.3 1435.0,1230.4 1437.2,1230.5 1439.3,1230.6 1441.5,1230.7 1443.6,1230.8 1445.8,1230.9 1447.9,1231.0 1450.1,1231.1 1452.2,1231.2 1454.4,1231.3 1456.5,1231.4 1458.7,1231.5 1460.8,1231.6 1463.0,1231.7 1465.1,1231.8 1467.3,1231.9 1469.5,1232.0 1471.6,1232.1 1473.8,1232.1 1475.9,1232.2 1478.1,1232.3 1480.2,1232.4 1482.4,1232.5 1484.5,1232.6 1486.7,1232.7 1488.8,1232.8 1491.0,1232.9 1493.1,1233.0 1495.3,1233.1 1497.4,1233.1 1499.6,1233.2 1501.7,1233.3 1503.9,1233.4 1506.0,1233.5 1508.2,1233.6 1510.3,1233.6 1512.5,1233.7 1514.6,1233.8 1516.8,1233.9 1518.9,1234.0 1521.1,1234.0 1523.2,1234.1 1525.4,1234.2 1527.5,1234.3 1529.7,1234.3 1531.9,1234.4 1534.0,1234.5 1536.2,1234.6 1538.3,1234.7 1540.5,1234.8 1542.6,1234.8 1544.8,1234.9 1546.9,1235.0 1549.1,1235.1 1551.2,1235.2 1553.4,1235.3 1555.5,1235.4 1557.7,1235.4 1559.8,1235.5 1562.0,1235.6 1564.1,1235.7 1566.3,1235.8 1568.4,1235.9 1570.6,1235.9 1572.7,1236.0 1574.9,1236.1 1577.0,1236.2 1579.2,1236.3 1581.3,1236.3 1583.5,1236.4 1585.7,1236.5 1587.8,1236.6 1590.0,1236.7 1592.1,1236.8 1594.3,1236.8 1596.4,1236.9 1598.6,1237.0 1600.7,1237.1 1602.9,1237.1 1605.0,1237.2 1607.2,1237.3 1609.3,1237.4 1611.5,1237.4 1613.6,1237.5 1615.8,1237.6 1617.9,1237.7 1620.1,1237.7 1622.2,1237.8 1624.4,1237.9 1626.5,1237.9 1628.7,1238.0 1630.9,1238.0 1633.0,1238.1 1635.2,1238.1 1637.3,1238.2 1639.5,1238.2 1641.6,1238.3 1643.8,1238.3 1645.9,1238.3 1648.1,1238.4 1650.2,1238.4 1652.4,1238.4 1654.5,1238.5 1656.7,1238.5 1658.8,1238.5 1661.0,1238.6 1663.2,1238.6 1665.3,1238.6 1667.5,1238.6 1669.6,1238.7 1671.8,1238.7 1673.9,1238.7 1676.1,1238.7 1678.2,1238.7 1680.4,1238.8 1682.5,1238.8 1684.7,1238.8 1686.8,1238.8 1689.0,1238.8 1691.1,1238.8 1693.3,1238.9 1695.5,1238.9 1697.6,1238.9 1699.8,1238.9 1701.9,1238.9 1704.1,1238.9 1706.2,1239.0 1708.4,1239.0 1710.5,1239.0 1712.7,1239.0 1714.8,1239.0 1717.0,1239.0 1719.1,1239.1 1721.3,1239.1 1723.5,1239.1 1725.6,1239.1 1727.8,1239.1 1729.9,1239.2 1732.1,1239.2 1734.2,1239.2 1736.4,1239.2 1738.5,1239.2 1740.7,1239.2 1742.8,1239.3 1745.0,1239.3 1747.1,1239.3 1749.3,1239.3 1751.5,1239.3 1753.6,1239.4 1755.8,1239.4 1757.9,1239.4 1760.1,1239.4 1762.2,1239.4 1764.4,1239.4 1766.5,1239.5 1768.7,1239.5 1770.8,1239.5 1773.0,1239.5 1775.1,1239.5 1777.3,1239.5 1779.4,1239.6 1781.6,1239.6 1783.8,1239.6 1785.9,1239.6 1788.1,1239.6 1790.2,1239.6 1792.4,1239.7 1794.5,1239.7 1796.7,1239.7 1798.8,1239.7 1801.0,1239.7 1803.1,1239.7 1805.3,1239.7 1807.4,1239.8 1809.6,1239.8 1811.8,1239.8 1813.9,1239.8 1816.1,1239.8 1818.2,1239.8 1820.4,1239.8 1822.5,1239.9 1824.7,1239.9 1826.8,1239.9 1829.0,1239.9 1831.1,1239.9 1833.3,1239.9 1835.4,1239.9 1837.6,1239.9 1839.8,1239.9 1841.9,1239.9 1844.1,1239.9 1846.2,1240.0 1848.4,1240.0 1850.5,1240.0 1852.7,1240.0 1854.8,1240.0 1857.0,1240.0 1859.1,1240.0 1861.3,1240.0"/>
<path class="curve" style="stroke-width:13.70" d="M212.4,434.8 212.7,433.3 213.0,432.5 213.3,430.8 213.5,427.9 213.8,425.0 214.1,425.2 214.4,423.8 214.8,421.3 215.1,418.3 215.4,416.0 215.7,415.4 216.1,413.8 216.5,410.7 216.9,408.5 217.3,406.3 217.7,402.1 218.1,399.3 218.5,398.6 218.8,395.5 219.2,391.7 219.6,390.6 219.9,389.3 220.2,386.5 220.5,384.9 220.8,385.8 221.1,385.6 221.4,382.4 221.7,379.7 222.0,379.2 222.3,377.9 222.6,375.5 222.8,374.4 223.1,372.6 223.4,368.7 223.7,365.6 224.0,364.9 224.3,364.2 224.6,361.6 224.9,356.9 225.2,353.6 225.6,351.0 225.9,349.1 226.3,349.7 226.7,349.2 227.2,347.6 227.9,347.7 228.7,346.5 229.7,344.0 230.8,341.8 231.9,339.0 232.9,335.5 233.7,334.6 234.5,332.3 235.2,328.5 235.8,327.6 236.5,327.1 237.2,325.6 237.9,323.0 238.7,321.0 239.4,319.0 240.2,316.7 241.1,315.8 242.0,314.4 242.9,312.4 243.8,310.7 244.7,310.3 245.6,308.4 246.6,305.9 247.5,305.3 248.5,305.3 249.5,302.4 250.6,297.6 251.8,296.7 253.0,295.4 254.2,292.2 255.5,290.2 256.7,289.5 258.0,287.3 259.3,287.1 260.6,285.6 262.0,281.0 263.3,278.4 264.7,277.6 266.0,279.2 267.3,281.0 268.7,278.4 270.0,272.2 271.2,270.5 272.5,272.3 273.8,272.3 275.0,268.7 276.3,265.1 277.7,263.7 279.1,262.3 280.7,260.1 282.4,258.8 284.1,258.9 286.0,258.3 288.0,256.7 290.1,255.3 291.7,255.6 293.0,259.0 294.1,262.8 295.1,263.0 296.1,264.0 297.1,268.7 298.1,272.7 299.2,274.8 300.3,273.8 301.2,272.5 302.2,274.5 303.2,280.8 304.2,284.0 305.2,281.8 306.3,281.8 307.6,284.0 309.3,283.1 310.1,281.1 310.8,280.0 311.3,279.7 311.8,279.0 312.2,276.7 312.7,274.3 313.1,271.0 313.7,267.1 314.3,262.4 314.9,261.3 315.5,262.5 316.1,261.4 316.9,260.7 317.9,260.4 319.8,261.0 321.5,262.1 322.9,262.4 324.3,261.5 325.7,261.0 327.0,262.0 328.3,263.4 329.5,264.7 330.8,267.3 332.0,270.4 333.2,272.4 334.3,272.3 335.4,272.5 336.4,276.3 337.4,280.8 338.4,284.0 339.5,284.6 340.5,284.2 341.5,287.0 342.6,292.2 343.9,295.2 345.3,297.7 346.8,297.9 348.3,295.8 349.8,296.7 351.2,299.1 352.5,301.0 353.5,302.5 354.5,303.5 355.5,303.5 356.4,303.5 357.2,305.7 358.0,308.3 358.7,310.9 359.3,313.6 359.7,317.1 360.0,319.9 360.3,321.3 360.6,322.6 360.9,323.7 361.4,324.7 362.1,326.4 362.8,328.6 363.6,331.5 364.4,333.7 365.3,334.9 366.4,335.6 367.9,337.6 370.0,336.9 372.1,335.7 374.1,335.6 376.1,335.4 378.1,335.0 380.2,333.3 382.2,331.6 384.3,332.6 386.3,334.5 388.3,332.5 390.1,329.3 392.1,328.3 394.0,329.9 395.4,333.0 396.8,333.7 398.0,335.9 399.4,337.4 400.7,337.6 402.3,340.7 404.4,343.1 406.4,342.4 408.5,341.5 410.6,341.2 412.6,341.0 414.5,341.3 416.4,342.1 418.0,343.1 419.5,344.2 420.8,346.0 421.8,347.3 422.6,349.1 423.3,352.0 423.8,354.6 424.3,356.2 424.8,357.6 425.2,359.5 425.7,361.3 426.1,363.1 426.5,364.9 426.9,366.6 427.3,368.8 427.8,370.8 428.2,372.8 428.6,374.7 429.0,376.8 429.4,378.9 429.8,381.0 430.3,383.0 430.8,385.0 431.2,387.0 431.8,388.6 432.3,390.2 432.9,392.4 433.5,394.6 434.1,396.5 434.7,398.6 435.3,400.4 436.0,401.3 436.6,402.6 437.2,405.1 437.9,407.5 438.5,410.0 439.2,413.1 439.8,415.4 440.4,416.5 441.1,418.5 441.7,420.8 442.4,422.8 443.0,424.4 443.6,425.8 444.3,428.5 444.9,431.2 445.5,432.3 446.1,433.2 446.6,435.7 447.2,438.1 447.7,439.4 448.2,441.0 448.8,443.1 449.3,444.4 449.9,446.3 450.5,448.1 451.1,449.9 451.7,452.8 452.3,454.4 452.9,455.6 453.5,457.7 454.1,458.9 454.7,459.9 455.3,462.5 455.9,465.7 456.6,468.2 457.2,470.0 457.9,471.7 458.5,473.7 459.2,475.8 459.9,478.1 460.7,479.7 461.4,481.4 462.1,482.8 462.9,483.8 463.7,486.2 464.5,489.3 465.3,491.0 466.1,492.2 466.9,493.9 467.7,495.6 468.6,497.4 469.5,499.0 470.4,500.6 471.3,502.4 472.2,504.9 473.2,506.0 474.2,506.9 475.2,509.2 476.3,511.4 477.6,513.0 479.1,514.4 481.2,516.3 483.2,516.7 485.0,513.9 486.8,511.9 488.5,510.6 490.1,508.7 491.9,506.5 493.7,505.9 495.6,506.2 497.5,506.0 499.3,505.3 501.2,503.7 503.0,503.4 504.9,503.2 506.7,500.4 508.4,498.1 510.2,497.5 512.2,497.3 514.3,497.5 516.4,497.5 518.4,497.9 520.3,500.1 522.2,502.4 524.1,501.8 526.0,500.3 527.8,501.4 529.4,503.6 530.9,505.8 532.5,508.1 534.1,510.3 536.1,511.0 538.1,509.8 539.9,508.0 541.6,506.5 543.0,505.5 544.3,504.4 545.4,502.3 546.3,500.1 547.2,498.7 548.0,496.4 548.8,493.7 549.6,491.2 550.3,489.1 551.1,486.7 551.8,484.7 552.5,484.4 553.3,483.2 554.0,481.3 554.7,479.6 555.5,477.6 556.2,474.8 556.9,472.2 557.6,470.9 558.3,470.0 559.0,468.8 559.7,467.0 560.4,464.4 561.0,461.4 561.7,459.2 562.3,457.9 562.8,456.3 563.3,454.4 563.7,452.3 564.0,450.1 564.4,448.0 564.7,446.1 565.0,444.2 565.4,442.4 565.8,440.4 566.3,438.4 567.1,436.5 568.3,434.9 569.9,433.5 571.6,432.3 573.3,431.1 574.9,429.7 576.1,428.0 576.9,426.2 577.6,424.3 578.2,422.4 578.9,420.5 579.5,418.6 580.1,416.6 580.8,414.7 581.5,412.9 582.6,411.1 583.8,409.5 585.2,407.9"/>
</g>
<g stroke="#ff1493">
<path class="curve" style="stroke-width:13.2" d="M212.4,439.4 212.5,436.5 212.6,436.5 212.7,435.5 212.8,431.1 212.9,428.3 213.0,428.6 213.1,429.7 213.3,429.1 213.4,426.2 213.5,422.4 213.6,416.8 213.7,411.5 213.8,407.9 213.9,406.9 214.0,407.0 214.1,405.7 214.2,403.6 214.4,403.0 214.5,400.7 214.6,397.5 214.7,397.0 214.8,397.8 214.9,394.1 215.0,389.2 215.1,388.2 215.2,388.8 215.3,386.9 215.4,385.8 215.5,382.6 215.6,377.7 215.7,377.0 215.8,374.5 215.9,370.6 216.0,369.6 216.1,369.7 216.2,368.4 216.3,365.7 216.4,363.6 216.6,364.3 216.7,364.7 216.9,363.1 217.1,360.9 217.3,359.7 217.5,357.5 217.7,353.5 217.9,350.2 218.1,347.7 218.3,345.3 218.6,341.5 218.8,336.7 219.1,335.2 219.4,333.2 219.6,328.7 219.9,328.0 220.2,329.2 220.5,326.2 220.8,323.9 221.1,322.7 221.4,319.8 221.7,316.8 222.0,315.0 222.3,313.4 222.7,312.2 223.0,312.6 223.3,312.8 223.6,311.2 223.9,309.6 224.2,307.2 224.6,304.3 224.9,301.2 225.3,298.0 225.6,296.2 226.0,293.5 226.3,290.7 226.7,290.5 227.1,289.4 227.5,286.0 228.1,280.9 228.7,278.0 229.4,279.5 230.4,277.0 231.6,273.3 233.1,273.5 234.7,273.4 236.5,273.2 238.4,273.1 240.4,273.2 242.5,272.2 244.6,271.3 246.8,271.5 248.7,272.0 250.3,272.1 251.8,275.1 253.4,276.4 255.3,274.4 256.6,272.1 257.6,270.5 258.5,269.9 259.4,268.7 260.4,266.3 261.4,265.8 263.0,265.9 265.0,267.2 266.6,268.4 268.4,268.4 270.5,269.2 272.2,269.3 273.6,265.1 274.6,261.2 275.2,259.4 275.7,257.5 276.1,254.1 276.6,250.5 277.6,247.9 278.1,249.7 278.4,252.1 278.7,254.8 279.0,258.9 279.3,262.4 279.6,263.0 280.0,263.9 280.7,267.0 281.3,265.0 281.7,261.7 282.0,259.9 282.3,257.4 282.6,255.4 282.8,254.7 283.1,253.9 283.5,251.1 283.8,249.2 284.4,249.3 285.2,249.3 286.2,246.9 287.6,243.8 289.7,244.2 291.8,245.4 293.7,246.9 295.6,247.0 297.6,245.5 299.6,245.6 301.6,246.8 303.6,249.4 305.6,251.4 307.5,250.5 309.3,251.5 311.0,254.3 312.6,253.3 314.1,253.4 315.5,254.5 316.8,255.9 318.1,260.1 319.2,263.0 320.1,263.4 320.9,264.1 321.7,264.3 322.4,264.8 323.1,267.4 323.7,268.8 324.2,271.5 324.7,276.1 325.2,278.9 325.7,280.4 326.2,284.6 326.8,287.8 327.3,287.6 327.8,287.8 328.4,289.2 328.9,290.1 329.4,292.1 329.8,296.1 330.2,298.4 330.6,298.6 331.0,299.4 331.4,300.7 331.9,302.0 332.6,303.2 333.4,305.9 334.3,310.3 335.2,312.8 336.2,315.8 337.2,318.8 338.4,318.8 339.8,318.6 341.4,318.2 343.0,320.1 344.7,323.0 346.4,322.8 348.2,321.4 349.9,322.7 351.6,326.0 353.3,328.2 355.1,330.7 356.9,331.9 358.7,332.2 360.4,333.9 362.1,335.9 363.7,336.1 365.1,336.4 366.4,338.6 367.5,340.4 368.6,342.6 369.7,345.6 370.7,348.2 371.7,349.9 372.7,349.9 373.7,350.4 374.7,352.5 375.8,354.5 376.8,355.2 377.8,356.3 378.9,357.6 380.0,360.0 381.2,364.7 382.7,368.6 384.6,367.8 386.8,366.8 388.9,366.7 391.0,367.1 392.6,369.9 394.0,373.2 395.2,374.4 396.4,376.4 397.5,376.5 398.7,375.2 399.9,375.8 401.2,377.4 402.7,380.0 404.5,383.6 406.6,384.4 408.8,382.8 410.9,380.9 412.9,381.0 415.0,382.2 417.1,383.7 419.2,382.0 421.3,380.3 423.2,378.8 424.7,376.1 425.9,374.0 427.0,373.1 427.9,372.1 428.5,369.2 429.0,367.3 429.5,365.6 429.8,362.1 430.2,358.1 430.5,356.2 430.9,355.3 431.2,354.8 431.6,354.7 431.9,352.6 432.2,349.4 432.6,346.9 432.9,345.7 433.3,343.1 433.6,340.4 434.0,340.3 434.3,340.4 434.7,336.6 435.0,333.8 435.4,333.6 435.9,331.9 436.3,329.4 436.9,327.0 437.5,323.3 438.8,322.0 439.6,324.6 440.2,328.3 440.8,331.5 441.3,334.1 441.7,335.1 442.2,335.7 442.6,336.4 443.1,338.1 443.5,340.9 444.0,343.2 444.5,344.3 445.0,346.0 445.5,349.1 446.1,351.4 446.7,353.0 447.3,355.2 447.9,357.4 448.5,359.0 449.1,360.6 449.6,362.5 450.2,364.6 450.7,366.6 451.2,368.5 451.7,370.5 452.2,372.4 452.7,374.3 453.1,375.9 453.6,377.6 454.1,379.6 454.6,381.6 455.1,383.2 455.6,384.5 456.1,386.5 456.7,389.3 457.2,391.6 457.7,393.3 458.2,396.2 458.7,398.9 459.2,399.9 459.7,400.9 460.1,402.9 460.6,405.5 461.0,407.8 461.5,409.5 461.9,411.3 462.4,413.6 462.9,415.7 463.3,417.6 463.8,419.4 464.2,420.7 464.7,423.0 465.2,425.6 465.7,428.4 466.2,430.8 466.7,431.7 467.2,432.9 467.8,435.4 468.5,438.4 469.1,440.5 469.8,441.8 470.5,443.9 471.2,446.1 471.9,446.7 472.6,446.9 473.3,448.6 474.1,451.2 474.8,453.7 475.4,455.9 476.1,458.4 476.7,460.3 477.3,462.4 477.9,464.1 478.4,466.4 478.9,468.7 479.4,471.5 479.9,474.2 480.3,475.9 480.6,476.5 480.9,476.6 481.1,477.0 481.3,478.9 481.5,483.5 481.7,486.9 481.9,488.3 482.1,489.9 482.4,492.7 482.7,493.9 483.2,494.9 483.6,495.9 484.1,498.5 484.6,501.9 485.1,503.7 485.6,504.5 486.1,506.7 486.7,508.8 487.3,509.9 488.1,511.8 489.0,513.6 490.5,514.2 491.2,512.8 491.7,511.0 492.1,508.4 492.6,505.9 493.0,503.7 493.4,501.5 493.8,499.5 494.1,497.5 494.5,496.1 494.9,494.9 495.3,493.3 495.7,491.9 496.2,490.1 496.6,487.4 497.1,484.7 497.7,483.6 498.5,482.9 499.5,481.4 500.7,479.7 502.1,477.3 503.5,474.5 505.1,473.4 506.7,472.4 508.3,470.2 509.9,468.3 511.5,467.6 513.2,467.5 514.9,467.6 516.8,466.2 518.8,463.8 521.0,462.7 523.1,463.2 525.1,464.3 527.2,465.8 529.1,467.2 531.0,467.3 532.9,468.1 534.8,469.5 536.8,470.2 538.9,469.9 540.9,469.5 542.8,469.1 544.5,467.8 545.9,465.8 547.1,464.3 548.0,463.5 548.6,462.0 549.2,459.2 549.8,457.7 550.3,456.0 550.7,453.4 551.2,452.4 551.7,451.0 552.1,448.5 552.6,446.8 553.0,444.9 553.5,442.0 553.9,439.2 554.4,436.5 554.8,434.6 555.2,433.3 555.7,432.2 556.1,430.7 556.5,427.8 556.9,425.2 557.3,424.4 557.7,423.0 558.1,420.5 558.6,417.6 559.0,415.1 559.4,413.8 559.8,413.2 560.3,411.4 560.7,408.8 561.1,406.4 561.6,403.7 562.0,401.1 562.5,399.3 562.9,397.2 563.4,394.2 563.8,391.7 564.3,390.1 564.8,389.4 565.2,388.0 565.7,385.1 566.2,382.4 566.6,380.4 567.1,378.9 567.5,376.9 568.0,375.0 568.4,374.2 568.8,373.9 569.2,371.2 569.6,368.2 570.1,366.6 570.5,365.7 570.9,364.0 571.3,360.8 571.7,358.1 572.2,357.5 572.6,356.5 573.1,354.4 573.5,352.0 573.9,350.0 574.4,348.1 574.8,345.9 575.2,343.8 575.6,341.1 576.0,338.7 576.4,336.5 576.8,334.6 577.2,333.2 577.6,332.4 578.0,330.6 578.4,327.3 578.7,325.0 579.1,323.9 579.4,321.9 579.7,319.9 580.0,318.2 580.3,316.1 580.6,313.9 580.9,312.4 581.2,309.8 581.5,306.3 581.8,304.6 582.1,303.4 582.4,301.8 582.6,299.5 582.8,297.0 583.1,295.3 583.3,293.9 583.6,292.0 584.0,290.7 584.5,289.7 585.1,286.8 586.0,283.7 587.0,282.1 588.0,280.4 589.1,278.2 590.2,276.3 591.3,273.8 592.4,271.8 593.4,271.5 594.2,270.8 595.1,268.9 595.9,266.3 596.8,264.2 597.7,262.9 598.9,261.9 600.2,261.0 601.6,259.8 603.5,258.0 605.5,257.5 607.2,258.1 608.5,259.6 609.5,262.5 610.4,265.3 611.1,267.5 611.9,269.4 612.6,270.9 613.4,271.8 614.2,273.4 614.9,275.0 615.7,276.1 616.5,277.1 617.3,278.6 618.2,280.5 619.0,283.1 619.9,285.5 620.8,287.2 621.7,288.3 622.6,290.3 623.6,292.2 624.6,294.1 625.6,297.5 626.7,299.5 627.9,301.1 629.1,303.7 630.3,304.5 631.6,304.0 632.8,305.6 634.1,307.8 635.5,309.5 637.0,310.7 638.5,312.2 640.2,313.1 641.9,313.6 643.9,315.9 646.0,317.7 648.2,317.9 650.3,318.0 652.3,317.5 654.2,315.8 656.0,314.2 657.8,312.9 659.5,312.1 661.2,311.9 662.8,310.3 664.4,308.6 666.0,307.6 667.5,305.6 669.1,302.4 670.6,300.6 672.1,300.1 673.6,298.7 675.0,296.1 676.3,294.6 677.4,294.3 678.5,293.0 679.6,290.6 680.7,288.3 681.9,286.3 683.7,285.2 685.4,286.7 687.0,288.7 688.4,290.4 689.8,291.9 691.0,293.0 692.1,294.7 692.9,296.9 693.5,298.9 694.0,300.8 694.5,302.8 695.1,304.6 695.6,306.5 696.2,308.5 696.9,310.5 697.7,312.4 698.6,314.3 699.5,316.2 700.4,318.0 701.4,319.8 702.3,321.6 703.2,323.4 704.1,325.2 705.0,327.0 705.9,328.9 706.7,330.7 707.5,332.6 708.3,334.4 709.1,336.3 709.8,338.2 710.5,340.1 711.2,342.0 711.9,343.9 712.6,345.8 713.2,347.7 713.9,349.6 714.6,351.5 715.2,353.4 715.8,355.3 716.5,357.2 717.1,359.1 717.7,361.1 718.3,363.0 718.9,364.9 719.5,366.8 720.1,368.7 720.7,370.7 721.3,372.6 721.9,374.5 722.5,376.4 723.1,378.4 723.7,380.3 724.3,382.2 724.9,384.1 725.6,386.0 726.2,388.0 726.8,389.9 727.5,391.8 728.2,393.7 728.8,395.6 729.5,397.5 730.2,399.4 730.8,401.3 731.5,403.2 732.2,405.1 732.9,407.0 733.5,408.9 734.2,410.8 734.9,412.7 735.5,414.6 736.2,416.5 736.8,418.4 737.5,420.3 738.1,422.2 738.8,424.2 739.4,426.1 740.1,428.0 740.7,429.9 741.4,431.8 742.0,433.7 742.7,435.6 743.3,437.5 744.0,439.4 744.6,441.3 745.3,443.3 745.9,445.2 746.6,447.1 747.2,449.0 747.9,450.9 748.6,452.8 749.2,454.7 749.9,456.6 750.6,458.5 751.3,460.4 751.9,462.3 752.6,464.2 753.3,466.1 754.0,468.0 754.7,469.9 755.4,471.8 756.1,473.6 756.9,475.5 757.6,477.4 758.3,479.3 759.1,481.2 759.9,483.0 760.6,484.9 761.4,486.8 762.2,488.7 762.9,490.5 763.7,492.4 764.5,494.3 765.3,496.1 766.1,498.0 766.9,499.8 767.7,501.7 768.5,503.5 769.3,505.4 770.1,507.3 770.9,509.1 771.8,511.0 772.6,512.8 773.4,514.7 774.2,516.5 775.1,518.4 775.9,520.2 776.8,522.0 777.6,523.9 778.5,525.7 779.3,527.5 780.2,529.4 781.1,531.2 782.0,533.0 782.8,534.9 783.7,536.7 784.6,538.5 785.5,540.4 786.3,542.2 787.2,544.0 788.0,545.9 788.9,547.7 789.7,549.6 790.5,551.4 791.3,553.2 792.2,555.1 793.0,556.9 793.8,558.8 794.7,560.6 795.5,562.4 796.4,564.3 797.3,566.1 798.2,567.9 799.2,569.7 800.1,571.5 801.1,573.3 802.1,575.1 803.1,576.8 804.1,578.6 805.1,580.4 806.1,582.1 807.2,583.9 808.3,585.6 809.3,587.3 810.4,589.1 811.5,590.8 812.6,592.5 813.8,594.2 814.9,595.9 816.0,597.6 817.2,599.3 818.4,601.0 819.5,602.6 820.7,604.3 821.9,606.0 823.1,607.6 824.4,609.3 825.6,610.9 826.8,612.5 828.1,614.2 829.4,615.8 830.7,617.4 832.0,619.0 833.3,620.6 834.6,622.1 835.9,623.7 837.3,625.2 838.7,626.8 840.1,628.3 841.5,629.8 842.9,631.4 844.3,632.9 845.7,634.4 847.1,635.9 848.5,637.4 850.0,638.9 851.4,640.4 852.8,641.9 854.3,643.4 855.7,644.9 857.1,646.4 858.5,647.9 860.0,649.4 861.4,650.9 862.8,652.4 864.2,653.9 865.6,655.4 867.0,656.9 868.4,658.5 869.8,660.0 871.1,661.5 872.5,663.1 873.9,664.6 875.2,666.2 876.5,667.8 877.9,669.4 879.2,670.9 880.5,672.5 881.7,674.2 883.0,675.8 884.2,677.4 885.4,679.1 886.6,680.7 887.8,682.4 889.0,684.1 890.1,685.8 891.2,687.5 892.3,689.2 893.4,690.9 894.5,692.7 895.6,694.4 896.6,696.2 897.6,697.9 898.7,699.7 899.7,701.4 900.7,703.2 901.7,705.0 902.6,706.8 903.6,708.6 904.5,710.4 905.5,712.2 906.4,714.0 907.3,715.8 908.2,717.6 909.1,719.4 909.9,721.3 910.8,723.1 911.6,725.0 912.4,726.8 913.3,728.7 914.1,730.5 914.8,732.4 915.6,734.2 916.4,736.1 917.2,738.0 917.9,739.9 918.7,741.7 919.5,743.6 920.2,745.5 920.9,747.4 921.7,749.2 922.4,751.1 923.2,753.0 923.9,754.9 924.6,756.8 925.3,758.7 926.0,760.6 926.7,762.4 927.4,764.3 928.1,766.2 928.8,768.1 929.5,770.0 930.2,771.9 930.9,773.8 931.6,775.7 932.2,777.6 932.9,779.5 933.6,781.4 934.3,783.3 935.0,785.2 935.7,787.1 936.3,789.0 937.0,790.9 937.7,792.8 938.4,794.7 939.1,796.6 939.7,798.5 940.4,800.4 941.1,802.3 941.8,804.2 942.4,806.1 943.1,808.0 943.8,809.9 944.4,811.8 945.1,813.8 945.7,815.7 946.4,817.6 947.0,819.5 947.6,821.4 948.3,823.3 948.9,825.2 949.5,827.1 950.1,829.1 950.8,831.0 951.4,832.9 952.0,834.8 952.6,836.7 953.2,838.7 953.8,840.6 954.4,842.5 954.9,844.4 955.5,846.4 956.1,848.3 956.7,850.2 957.3,852.2 957.8,854.1 958.4,856.0 959.0,857.9 959.6,859.9 960.2,861.8 960.8,863.7 961.4,865.6 962.0,867.6 962.6,869.5 963.2,871.4 963.8,873.3 964.4,875.2 965.1,877.2 965.7,879.1 966.3,881.0 967.0,882.9 967.6,884.8 968.3,886.7 968.9,888.6 969.6,890.5 970.2,892.4 970.9,894.4 971.5,896.3 972.2,898.2 972.9,900.1 973.6,902.0 974.2,903.9 974.9,905.8 975.6,907.7 976.3,909.6 977.0,911.5 977.7,913.3 978.4,915.2 979.1,917.1 979.8,919.0 980.6,920.9 981.3,922.8 982.1,924.7 982.8,926.5 983.6,928.4 984.3,930.3 985.1,932.1 985.9,934.0 986.7,935.9 987.5,937.7 988.3,939.6 989.1,941.4 989.9,943.3 990.7,945.1 991.6,947.0 992.4,948.8 993.2,950.7 994.1,952.5 995.0,954.4 995.8,956.2 996.7,958.0 997.6,959.8 998.5,961.7 999.4,963.5 1000.3,965.3 1001.1,967.1 1002.0,969.0 1002.9,970.8 1003.8,972.6 1004.7,974.4 1005.6,976.2 1006.5,978.1 1007.4,979.9 1008.3,981.7 1009.2,983.5 1010.1,985.3 1011.0,987.2 1011.9,989.0 1012.8,990.8 1013.8,992.6 1014.7,994.3 1015.7,996.1 1016.8,997.8 1017.8,999.6 1018.9,1001.3 1020.1,1003.0 1021.3,1004.6 1022.5,1006.3 1023.7,1007.9 1025.0,1009.5 1026.3,1011.1 1027.7,1012.6 1029.0,1014.2 1030.4,1015.7 1031.9,1017.1 1033.3,1018.6 1034.8,1020.0 1036.4,1021.4 1037.9,1022.7 1039.6,1024.0 1041.2,1025.3 1042.9,1026.6 1044.6,1027.7 1046.3,1028.9 1048.1,1030.0 1049.9,1031.1 1051.7,1032.1 1053.6,1033.1 1055.4,1034.1 1057.3,1035.0 1059.2,1035.9 1061.1,1036.8 1063.1,1037.7 1065.0,1038.6 1066.9,1039.5 1068.8,1040.4 1070.7,1041.3 1072.6,1042.3 1074.5,1043.2 1076.3,1044.3 1078.1,1045.3 1079.9,1046.4 1081.6,1047.5 1083.4,1048.7 1085.1,1049.9 1086.7,1051.2 1088.3,1052.5 1089.9,1053.8 1091.5,1055.2 1093.0,1056.6 1094.5,1058.0 1096.0,1059.4 1097.4,1060.9 1098.9,1062.4 1100.3,1063.9 1101.7,1065.4 1103.0,1066.9 1104.4,1068.5 1105.8,1070.1 1107.1,1071.6 1108.4,1073.2 1109.8,1074.7 1111.1,1076.3 1112.5,1077.9 1113.8,1079.4 1115.2,1080.9 1116.6,1082.5 1118.0,1084.0 1119.5,1085.5 1120.9,1086.9 1122.4,1088.4 1123.9,1089.8 1125.4,1091.2 1126.9,1092.6 1128.5,1094.0 1130.1,1095.4 1131.7,1096.7 1133.3,1098.0 1134.9,1099.3 1136.6,1100.6 1138.2,1101.8 1139.9,1103.1 1141.6,1104.3 1143.4,1105.5 1145.1,1106.7 1146.8,1107.8 1148.6,1109.0 1150.4,1110.1 1152.2,1111.2 1154.0,1112.3 1155.8,1113.3 1157.6,1114.4 1159.5,1115.4 1161.3,1116.4 1163.2,1117.4 1165.1,1118.4 1166.9,1119.4 1168.8,1120.4 1170.7,1121.3 1172.6,1122.3 1174.5,1123.2 1176.4,1124.1 1178.3,1125.0 1180.3,1125.9 1182.2,1126.8 1184.1,1127.7 1186.1,1128.6 1188.0,1129.5 1189.9,1130.4 1191.9,1131.2 1193.8,1132.1 1195.8,1132.9 1197.7,1133.8 1199.7,1134.6 1201.6,1135.5 1203.6,1136.3 1205.5,1137.1 1207.5,1138.0 1209.4,1138.8 1211.4,1139.7 1213.4,1140.5 1215.3,1141.3 1217.3,1142.1 1219.2,1143.0 1221.2,1143.8 1223.2,1144.6 1225.1,1145.4 1227.1,1146.2 1229.1,1147.0 1231.1,1147.8 1233.0,1148.6 1235.0,1149.4 1237.0,1150.1 1239.0,1150.9 1241.0,1151.6 1243.0,1152.3 1245.1,1153.0 1247.1,1153.7 1249.1,1154.4 1251.1,1155.0 1253.2,1155.7 1255.2,1156.3 1257.3,1156.9 1259.3,1157.5 1261.4,1158.1 1263.4,1158.7 1265.5,1159.2 1267.6,1159.8 1269.6,1160.3 1271.7,1160.9 1273.8,1161.4 1275.8,1162.0 1277.9,1162.5 1280.0,1163.1 1282.1,1163.6 1284.1,1164.2 1286.2,1164.7 1288.2,1165.3 1290.3,1165.9 1292.3,1166.5 1294.4,1167.1 1296.4,1167.7 1298.5,1168.3 1300.5,1168.9 1302.6,1169.4 1304.7,1170.0 1306.7,1170.5 1308.8,1171.1 1310.9,1171.6 1313.0,1172.1 1315.1,1172.6 1317.2,1173.0 1319.2,1173.5 1321.3,1173.9 1323.4,1174.4 1325.5,1174.8 1327.7,1175.2 1329.8,1175.6 1331.9,1176.0 1334.0,1176.4 1336.1,1176.8 1338.2,1177.2 1340.3,1177.6 1342.4,1178.0 1344.5,1178.3 1346.7,1178.7 1348.8,1179.0 1350.9,1179.4 1353.0,1179.7 1355.1,1180.1 1357.3,1180.4 1359.4,1180.7 1361.5,1181.1 1363.6,1181.4 1365.8,1181.7 1367.9,1182.1 1370.0,1182.4 1372.1,1182.7 1374.3,1183.0 1376.4,1183.4 1378.5,1183.7 1380.6,1184.0 1382.8,1184.3 1384.9,1184.7 1387.0,1185.0 1389.1,1185.3 1391.3,1185.6 1393.4,1185.9 1395.5,1186.2 1397.6,1186.5 1399.8,1186.8 1401.9,1187.1 1404.0,1187.4 1406.2,1187.7 1408.3,1188.0 1410.4,1188.3 1412.6,1188.6 1414.7,1188.9 1416.8,1189.2 1418.9,1189.5 1421.1,1189.7 1423.2,1190.0 1425.3,1190.3 1427.5,1190.5 1429.6,1190.8 1431.7,1191.1 1433.9,1191.3 1436.0,1191.6 1438.2,1191.9 1440.3,1192.1 1442.4,1192.4 1444.6,1192.6 1446.7,1192.9 1448.8,1193.1 1451.0,1193.4 1453.1,1193.6 1455.2,1193.9 1457.4,1194.1 1459.5,1194.3 1461.7,1194.6 1463.8,1194.8 1465.9,1195.0 1468.1,1195.3 1470.2,1195.5 1472.4,1195.7 1474.5,1195.9 1476.6,1196.1 1478.8,1196.3 1480.9,1196.5 1483.1,1196.7 1485.2,1196.9 1487.3,1197.1 1489.5,1197.3 1491.6,1197.5 1493.8,1197.7 1495.9,1197.9 1498.1,1198.1 1500.2,1198.3 1502.4,1198.5 1504.5,1198.7 1506.6,1198.9 1508.8,1199.1 1510.9,1199.2 1513.1,1199.4 1515.2,1199.6 1517.4,1199.8 1519.5,1200.0 1521.6,1200.2 1523.8,1200.3 1525.9,1200.5 1528.1,1200.7 1530.2,1200.9 1532.4,1201.1 1534.5,1201.2 1536.7,1201.4 1538.8,1201.6 1540.9,1201.8 1543.1,1202.0 1545.2,1202.1 1547.4,1202.3 1549.5,1202.5 1551.7,1202.7 1553.8,1202.9 1556.0,1203.0 1558.1,1203.2 1560.3,1203.4 1562.4,1203.6 1564.5,1203.7 1566.7,1203.9 1568.8,1204.1 1571.0,1204.2 1573.1,1204.4 1575.3,1204.6 1577.4,1204.7 1579.6,1204.9 1581.7,1205.1 1583.9,1205.3 1586.0,1205.4 1588.1,1205.6 1590.3,1205.8 1592.4,1205.9 1594.6,1206.1 1596.7,1206.3 1598.9,1206.4 1601.0,1206.6 1603.2,1206.8 1605.3,1206.9 1607.5,1207.1 1609.6,1207.2 1611.7,1207.4 1613.9,1207.6 1616.0,1207.7 1618.2,1207.9 1620.3,1208.0 1622.5,1208.2 1624.6,1208.3 1626.8,1208.4 1628.9,1208.6 1631.1,1208.7 1633.2,1208.9 1635.4,1209.0 1637.5,1209.1 1639.7,1209.3 1641.8,1209.4 1644.0,1209.5 1646.1,1209.6 1648.3,1209.7 1650.4,1209.8 1652.6,1210.0 1654.7,1210.1 1656.9,1210.2 1659.0,1210.3 1661.2,1210.4 1663.3,1210.5 1665.5,1210.6 1667.6,1210.7 1669.8,1210.8 1671.9,1210.9 1674.1,1211.0 1676.2,1211.1 1678.4,1211.2 1680.5,1211.3 1682.7,1211.4 1684.8,1211.5 1687.0,1211.6 1689.1,1211.6 1691.3,1211.7 1693.4,1211.8 1695.6,1211.9 1697.7,1212.0 1699.9,1212.1 1702.0,1212.2 1704.2,1212.3 1706.3,1212.4 1708.5,1212.5 1710.6,1212.6 1712.8,1212.6 1714.9,1212.7 1717.1,1212.8 1719.2,1212.9 1721.4,1213.0 1723.5,1213.1 1725.7,1213.1 1727.8,1213.2 1730.0,1213.3 1732.1,1213.4 1734.3,1213.5 1736.5,1213.6 1738.6,1213.6 1740.8,1213.7 1742.9,1213.8 1745.1,1213.9 1747.2,1213.9 1749.4,1214.0 1751.5,1214.1 1753.7,1214.2 1755.8,1214.2 1758.0,1214.3 1760.1,1214.4 1762.3,1214.5 1764.4,1214.5 1766.6,1214.6 1768.7,1214.7 1770.9,1214.7 1773.0,1214.8 1775.2,1214.9 1777.3,1215.0 1779.5,1215.0 1781.6,1215.1 1783.8,1215.2 1785.9,1215.2 1788.1,1215.3 1790.2,1215.4 1792.4,1215.4 1794.6,1215.5 1796.7,1215.6 1798.9,1215.6 1801.0,1215.7 1803.2,1215.7 1805.3,1215.8 1807.5,1215.8 1809.6,1215.9 1811.8,1216.0 1813.9,1216.0 1816.1,1216.1 1818.2,1216.1 1820.4,1216.1 1822.5,1216.2 1824.7,1216.2 1826.8,1216.3 1829.0,1216.3 1831.1,1216.3 1833.3,1216.3 1835.5,1216.4 1837.6,1216.4 1839.8,1216.4 1841.9,1216.4 1844.1,1216.5 1846.2,1216.5 1848.4,1216.5 1850.5,1216.5 1852.7,1216.5 1854.8,1216.5 1857.0,1216.6 1859.1,1216.6 1861.3,1216.6"/>
<path class="curve" style="stroke-width:13.70" d="M212.4,439.4 212.5,436.5 212.6,436.5 212.7,435.5 212.8,431.1 212.9,428.3 213.0,428.6 213.1,429.7 213.3,429.1 213.4,426.2 213.5,422.4 213.6,416.8 213.7,411.5 213.8,407.9 213.9,406.9 214.0,407.0 214.1,405.7 214.2,403.6 214.4,403.0 214.5,400.7 214.6,397.5 214.7,397.0 214.8,397.8 214.9,394.1 215.0,389.2 215.1,388.2 215.2,388.8 215.3,386.9 215.4,385.8 215.5,382.6 215.6,377.7 215.7,377.0 215.8,374.5 215.9,370.6 216.0,369.6 216.1,369.7 216.2,368.4 216.3,365.7 216.4,363.6 216.6,364.3 216.7,364.7 216.9,363.1 217.1,360.9 217.3,359.7 217.5,357.5 217.7,353.5 217.9,350.2 218.1,347.7 218.3,345.3 218.6,341.5 218.8,336.7 219.1,335.2 219.4,333.2 219.6,328.7 219.9,328.0 220.2,329.2 220.5,326.2 220.8,323.9 221.1,322.7 221.4,319.8 221.7,316.8 222.0,315.0 222.3,313.4 222.7,312.2 223.0,312.6 223.3,312.8 223.6,311.2 223.9,309.6 224.2,307.2 224.6,304.3 224.9,301.2 225.3,298.0 225.6,296.2 226.0,293.5 226.3,290.7 226.7,290.5 227.1,289.4 227.5,286.0 228.1,280.9 228.7,278.0 229.4,279.5 230.4,277.0 231.6,273.3 233.1,273.5 234.7,273.4 236.5,273.2 238.4,273.1 240.4,273.2 242.5,272.2 244.6,271.3 246.8,271.5 248.7,272.0 250.3,272.1 251.8,275.1 253.4,276.4 255.3,274.4 256.6,272.1 257.6,270.5 258.5,269.9 259.4,268.7 260.4,266.3 261.4,265.8 263.0,265.9 265.0,267.2 266.6,268.4 268.4,268.4 270.5,269.2 272.2,269.3 273.6,265.1 274.6,261.2 275.2,259.4 275.7,257.5 276.1,254.1 276.6,250.5 277.6,247.9 278.1,249.7 278.4,252.1 278.7,254.8 279.0,258.9 279.3,262.4 279.6,263.0 280.0,263.9 280.7,267.0 281.3,265.0 281.7,261.7 282.0,259.9 282.3,257.4 282.6,255.4 282.8,254.7 283.1,253.9 283.5,251.1 283.8,249.2 284.4,249.3 285.2,249.3 286.2,246.9 287.6,243.8 289.7,244.2 291.8,245.4 293.7,246.9 295.6,247.0 297.6,245.5 299.6,245.6 301.6,246.8 303.6,249.4 305.6,251.4 307.5,250.5 309.3,251.5 311.0,254.3 312.6,253.3 314.1,253.4 315.5,254.5 316.8,255.9 318.1,260.1 319.2,263.0 320.1,263.4 320.9,264.1 321.7,264.3 322.4,264.8 323.1,267.4 323.7,268.8 324.2,271.5 324.7,276.1 325.2,278.9 325.7,280.4 326.2,284.6 326.8,287.8 327.3,287.6 327.8,287.8 328.4,289.2 328.9,290.1 329.4,292.1 329.8,296.1 330.2,298.4 330.6,298.6 331.0,299.4 331.4,300.7 331.9,302.0 332.6,303.2 333.4,305.9 334.3,310.3 335.2,312.8 336.2,315.8 337.2,318.8 338.4,318.8 339.8,318.6 341.4,318.2 343.0,320.1 344.7,323.0 346.4,322.8 348.2,321.4 349.9,322.7 351.6,326.0 353.3,328.2 355.1,330.7 356.9,331.9 358.7,332.2 360.4,333.9 362.1,335.9 363.7,336.1 365.1,336.4 366.4,338.6 367.5,340.4 368.6,342.6 369.7,345.6 370.7,348.2 371.7,349.9 372.7,349.9 373.7,350.4 374.7,352.5 375.8,354.5 376.8,355.2 377.8,356.3 378.9,357.6 380.0,360.0 381.2,364.7 382.7,368.6 384.6,367.8 386.8,366.8 388.9,366.7 391.0,367.1 392.6,369.9 394.0,373.2 395.2,374.4 396.4,376.4 397.5,376.5 398.7,375.2 399.9,375.8 401.2,377.4 402.7,380.0 404.5,383.6 406.6,384.4 408.8,382.8 410.9,380.9 412.9,381.0 415.0,382.2 417.1,383.7 419.2,382.0 421.3,380.3 423.2,378.8 424.7,376.1 425.9,374.0 427.0,373.1 427.9,372.1 428.5,369.2 429.0,367.3 429.5,365.6 429.8,362.1 430.2,358.1 430.5,356.2 430.9,355.3 431.2,354.8 431.6,354.7 431.9,352.6 432.2,349.4 432.6,346.9 432.9,345.7 433.3,343.1 433.6,340.4 434.0,340.3 434.3,340.4 434.7,336.6 435.0,333.8 435.4,333.6 435.9,331.9 436.3,329.4 436.9,327.0 437.5,323.3 438.8,322.0 439.6,324.6 440.2,328.3 440.8,331.5 441.3,334.1 441.7,335.1 442.2,335.7 442.6,336.4 443.1,338.1 443.5,340.9 444.0,343.2 444.5,344.3 445.0,346.0 445.5,349.1 446.1,351.4 446.7,353.0 447.3,355.2 447.9,357.4 448.5,359.0 449.1,360.6 449.6,362.5 450.2,364.6 450.7,366.6 451.2,368.5 451.7,370.5 452.2,372.4 452.7,374.3 453.1,375.9 453.6,377.6 454.1,379.6 454.6,381.6 455.1,383.2 455.6,384.5 456.1,386.5 456.7,389.3 457.2,391.6 457.7,393.3 458.2,396.2 458.7,398.9 459.2,399.9 459.7,400.9 460.1,402.9 460.6,405.5 461.0,407.8 461.5,409.5 461.9,411.3 462.4,413.6 462.9,415.7 463.3,417.6 463.8,419.4 464.2,420.7 464.7,423.0 465.2,425.6 465.7,428.4 466.2,430.8 466.7,431.7 467.2,432.9 467.8,435.4 468.5,438.4 469.1,440.5 469.8,441.8 470.5,443.9 471.2,446.1 471.9,446.7 472.6,446.9 473.3,448.6 474.1,451.2 474.8,453.7 475.4,455.9 476.1,458.4 476.7,460.3 477.3,462.4 477.9,464.1 478.4,466.4 478.9,468.7 479.4,471.5 479.9,474.2 480.3,475.9 480.6,476.5 480.9,476.6 481.1,477.0 481.3,478.9 481.5,483.5 481.7,486.9 481.9,488.3 482.1,489.9 482.4,492.7 482.7,493.9 483.2,494.9 483.6,495.9 484.1,498.5 484.6,501.9 485.1,503.7 485.6,504.5 486.1,506.7 486.7,508.8 487.3,509.9 488.1,511.8 489.0,513.6 490.5,514.2 491.2,512.8 491.7,511.0 492.1,508.4 492.6,505.9 493.0,503.7 493.4,501.5 493.8,499.5 494.1,497.5 494.5,496.1 494.9,494.9 495.3,493.3 495.7,491.9 496.2,490.1 496.6,487.4 497.1,484.7 497.7,483.6 498.5,482.9 499.5,481.4 500.7,479.7 502.1,477.3 503.5,474.5 505.1,473.4 506.7,472.4 508.3,470.2 509.9,468.3 511.5,467.6 513.2,467.5 514.9,467.6 516.8,466.2 518.8,463.8 521.0,462.7 523.1,463.2 525.1,464.3 527.2,465.8 529.1,467.2 531.0,467.3 532.9,468.1 534.8,469.5 536.8,470.2 538.9,469.9 540.9,469.5 542.8,469.1 544.5,467.8 545.9,465.8 547.1,464.3 548.0,463.5 548.6,462.0 549.2,459.2 549.8,457.7 550.3,456.0 550.7,453.4 551.2,452.4 551.7,451.0 552.1,448.5 552.6,446.8 553.0,444.9 553.5,442.0 553.9,439.2 554.4,436.5 554.8,434.6 555.2,433.3 555.7,432.2 556.1,430.7 556.5,427.8 556.9,425.2 557.3,424.4 557.7,423.0 558.1,420.5 558.6,417.6 559.0,415.1 559.4,413.8 559.8,413.2 560.3,411.4 560.7,408.8 561.1,406.4 561.6,403.7 562.0,401.1 562.5,399.3 562.9,397.2 563.4,394.2 563.8,391.7 564.3,390.1 564.8,389.4 565.2,388.0 565.7,385.1 566.2,382.4 566.6,380.4 567.1,378.9 567.5,376.9 568.0,375.0 568.4,374.2 568.8,373.9 569.2,371.2 569.6,368.2 570.1,366.6 570.5,365.7 570.9,364.0 571.3,360.8 571.7,358.1 572.2,357.5 572.6,356.5 573.1,354.4 573.5,352.0 573.9,350.0 574.4,348.1 574.8,345.9 575.2,343.8 575.6,341.1 576.0,338.7 576.4,336.5 576.8,334.6 577.2,333.2 577.6,332.4 578.0,330.6 578.4,327.3 578.7,325.0 579.1,323.9 579.4,321.9 579.7,319.9 580.0,318.2 580.3,316.1 580.6,313.9 580.9,312.4 581.2,309.8 581.5,306.3 581.8,304.6 582.1,303.4 582.4,301.8 582.6,299.5 582.8,297.0 583.1,295.3 583.3,293.9 583.6,292.0 584.0,290.7 584.5,289.7 585.1,286.8 586.0,283.7 587.0,282.1 588.0,280.4 589.1,278.2 590.2,276.3 591.3,273.8 592.4,271.8 593.4,271.5 594.2,270.8 595.1,268.9 595.9,266.3 596.8,264.2 597.7,262.9 598.9,261.9 600.2,261.0 601.6,259.8 603.5,258.0 605.5,257.5 607.2,258.1 608.5,259.6 609.5,262.5 610.4,265.3 611.1,267.5 611.9,269.4 612.6,270.9 613.4,271.8 614.2,273.4 614.9,275.0 615.7,276.1 616.5,277.1 617.3,278.6 618.2,280.5 619.0,283.1 619.9,285.5 620.8,287.2 621.7,288.3 622.6,290.3 623.6,292.2 624.6,294.1 625.6,297.5 626.7,299.5 627.9,301.1 629.1,303.7 630.3,304.5 631.6,304.0 632.8,305.6 634.1,307.8 635.5,309.5 637.0,310.7 638.5,312.2 640.2,313.1 641.9,313.6 643.9,315.9 646.0,317.7 648.2,317.9 650.3,318.0 652.3,317.5 654.2,315.8 656.0,314.2 657.8,312.9 659.5,312.1 661.2,311.9 662.8,310.3 664.4,308.6 666.0,307.6 667.5,305.6 669.1,302.4 670.6,300.6 672.1,300.1 673.6,298.7 675.0,296.1 676.3,294.6 677.4,294.3 678.5,293.0 679.6,290.6 680.7,288.3 681.9,286.3 683.7,285.2 685.4,286.7 687.0,288.7 688.4,290.4 689.8,291.9 691.0,293.0 692.1,294.7 692.9,296.9 693.5,298.9 694.0,300.8 694.5,302.8 695.1,304.6 695.6,306.5 696.2,308.5 696.9,310.5 697.7,312.4 698.6,314.3"/>
</g>
<g stroke="#000090">
<path class="curve" style="stroke-width:13.2" d="M211.1,350.3 211.6,350.4 212.1,349.5 212.6,349.1 213.1,348.1 213.6,343.5 214.1,338.4 214.5,336.9 215.0,336.0 215.4,333.0 215.9,331.9 216.4,330.2 216.8,327.2 217.3,326.3 217.8,324.9 218.4,321.5 218.9,319.6 219.5,317.9 220.1,314.4 220.7,313.2 221.3,313.7 222.0,310.8 222.7,307.3 223.4,307.8 224.2,307.5 225.1,303.8 226.1,303.0 227.1,302.1 228.1,299.5 229.2,297.3 230.3,296.1 231.3,296.9 232.4,295.0 233.4,289.9 234.5,287.1 235.5,285.6 236.5,283.7 237.6,281.9 238.6,279.9 239.7,279.0 240.8,277.4 241.9,276.1 243.0,275.6 244.1,273.7 245.3,270.8 246.5,270.5 247.7,269.6 248.9,267.8 250.2,266.1 251.7,262.3 253.5,260.5 255.7,261.3 257.7,262.7 259.7,265.4 261.6,267.1 263.3,267.5 264.8,265.8 266.1,267.0 267.3,270.4 268.4,271.8 269.5,273.7 270.7,274.9 271.9,277.6 273.3,280.2 274.9,279.4 276.6,278.6 278.4,281.1 280.1,284.7 281.9,286.2 283.7,287.1 285.5,287.6 287.3,287.9 289.1,287.7 290.8,288.4 292.5,290.9 294.0,291.3 295.0,291.2 295.8,295.5 296.4,301.1 297.0,303.0 297.6,301.7 298.2,303.6 299.1,307.2 300.3,308.6 301.7,308.8 303.2,310.2 304.8,311.1 306.4,312.1 308.0,313.4 309.6,315.2 311.2,316.7 312.9,318.4 314.5,320.7 316.3,323.8 318.1,325.4 320.1,322.8 321.7,319.2 323.0,317.2 324.5,314.7 326.4,314.1 327.8,317.2 329.0,320.5 330.1,323.6 331.2,325.8 332.3,328.2 333.3,329.4 334.4,329.0 335.4,329.7 336.3,331.4 337.3,334.1 338.5,336.8 340.2,335.6 341.5,333.1 342.9,332.6 344.8,334.2 346.7,334.2 348.4,333.9 350.1,334.8 351.6,336.5 353.0,337.0 354.2,336.9 355.2,336.8 356.2,339.8 357.2,345.2 358.2,347.7 359.2,347.8 360.2,351.0 361.3,356.3 362.5,359.5 363.7,357.0 364.9,355.7 366.3,358.1 367.8,362.5 369.7,364.3 371.5,363.1 372.9,363.7 374.1,362.4 375.4,357.9 376.7,355.0 378.2,352.4 380.1,350.5 382.0,351.3 383.6,352.2 385.2,353.3 386.8,356.4 388.6,358.4 390.6,357.3 392.7,356.8 394.9,357.7 397.0,359.4 399.1,360.0 401.1,359.4 403.1,356.6 405.2,355.0 407.2,357.2 409.0,359.8 410.7,362.1 412.3,360.9 413.8,357.2 415.1,358.5 416.3,362.9 417.3,364.1 418.3,364.6 419.3,369.5 420.3,375.1 421.3,376.4 422.3,376.4 423.4,379.2 424.5,382.2 425.8,384.1 427.0,386.2 428.2,387.7 429.5,391.6 430.8,393.3 432.1,392.5 433.5,392.3 435.0,392.6 436.5,394.0 438.0,397.1 439.5,399.4 440.8,400.3 441.9,401.1 442.8,402.2 443.6,403.3 444.3,404.9 445.0,407.1 445.6,409.5 446.3,411.6 446.9,413.8 447.5,415.8 448.1,418.2 448.7,420.3 449.2,422.0 449.8,423.6 450.3,425.3 450.8,427.2 451.3,429.2 451.8,431.2 452.2,433.2 452.7,435.2 453.1,437.3 453.5,439.0 453.8,440.7 454.2,443.0 454.6,445.3 455.0,446.8 455.4,448.7 455.8,451.2 456.2,453.0 456.6,455.1 457.0,457.0 457.5,458.4 457.9,459.9 458.4,461.1 458.9,463.1 459.5,465.5 460.2,467.2 460.9,469.9 461.6,473.9 462.4,476.8 463.1,478.2 463.9,479.1 464.8,479.8 465.6,480.9 466.5,481.3 467.3,482.4 468.2,485.9 469.1,489.2 470.0,491.0 470.9,492.3 471.8,494.3 472.8,495.3 473.8,496.4 474.7,499.1 475.7,501.9 476.7,503.6 477.8,504.9 478.8,506.3 479.8,508.8 480.9,510.7 482.0,511.6 483.0,512.9 484.6,512.4 485.5,510.6 486.3,508.7 486.9,507.5 487.6,505.6 488.2,503.2 488.8,501.5 489.5,499.5 490.2,497.6 490.9,495.9 491.7,494.5 492.7,493.3 493.8,492.4 495.1,490.7 496.3,487.9 497.6,484.4 498.9,482.0 500.0,482.0 501.0,481.9 501.9,480.0 502.6,478.9 503.4,477.0 504.1,473.9 504.8,472.1 505.5,470.8 506.1,468.2 506.7,465.5 507.2,463.5 507.6,462.0 507.9,460.8 508.2,459.5 508.6,457.6 508.9,455.7 509.5,454.1 510.7,452.9 512.2,450.3 513.9,447.6 515.8,445.4 517.7,444.0 519.8,444.3 521.9,445.7 523.8,446.7 525.7,447.7 527.4,447.6 529.0,448.8 530.4,451.8 531.8,453.8 533.1,455.3 534.2,458.3 535.1,460.8 535.9,461.4 536.8,462.4 537.9,464.8 539.4,464.1 540.2,462.0 540.8,460.2 541.4,458.5 541.9,457.1 542.4,455.0 542.8,453.6 543.1,452.4 543.3,450.7 543.6,448.1 543.8,445.3 544.0,442.3 544.3,439.8 544.5,438.1 544.8,436.6 545.2,434.9 545.5,433.4 545.9,430.5 546.3,427.4 546.7,426.0 547.1,425.1 547.5,422.9 547.8,420.4 548.1,417.9 548.4,416.8 548.7,415.8 549.0,413.9 549.2,411.2 549.5,407.5 549.8,404.4 550.1,403.3 550.4,403.1 550.8,401.9 551.2,399.7 551.6,397.2 552.1,394.9 552.5,392.2 553.0,390.3 553.5,388.2 553.9,386.8 554.4,386.0 554.9,384.3 555.3,381.7 555.8,379.9 556.3,379.0 556.7,376.8 557.2,373.7 557.7,371.7 558.1,370.1 558.6,368.8 559.0,366.9 559.4,364.5 559.8,362.0 560.2,360.1 560.6,358.7 561.0,355.7 561.4,352.1 561.7,350.7 562.1,349.5 562.5,347.1 562.8,344.7 563.2,343.2 563.6,341.7 563.9,339.8 564.3,338.8 564.7,338.1 565.2,336.3 565.6,333.8 566.1,331.3 566.6,329.6 567.1,327.4 567.5,325.0 567.9,322.6 568.2,321.0 568.5,318.7 568.8,317.0 569.0,315.5 569.2,312.9 569.5,310.3 569.7,308.9 569.9,308.1 570.1,306.4 570.3,303.5 570.5,300.4 570.7,298.4 571.0,297.3 571.2,295.2 571.4,292.2 571.6,290.2 571.9,289.5 572.1,287.9 572.4,284.9 572.6,282.6 572.9,281.6 573.2,279.5 573.4,276.2 573.7,272.8 574.0,271.1 574.3,270.2 574.6,268.4 574.9,265.3 575.2,262.3 575.4,260.4 575.7,259.7 576.0,258.8 576.3,256.3 576.6,253.1 576.9,251.5 577.2,250.8 577.5,249.9 577.7,247.8 578.0,244.7 578.3,242.1 578.6,241.0 578.8,239.3 579.1,236.8 579.4,234.3 579.7,232.3 579.9,230.3 580.2,228.1 580.5,226.4 580.8,225.5 581.0,223.7 581.3,220.6 581.6,217.7 581.9,215.9 582.2,215.0 582.5,214.2 582.9,212.4 583.2,210.1 583.6,206.4 584.1,203.4 584.6,201.6 585.1,200.4 585.6,200.0 586.2,198.7 586.8,196.0 587.2,194.5 587.7,194.1 589.3,193.6 591.3,193.3 593.2,194.1 595.0,195.1 596.8,195.5 598.4,196.2 599.4,197.1 600.2,198.3 600.9,201.0 602.0,204.3 604.0,205.4 606.1,204.5 608.0,204.7 609.0,207.3 609.7,209.8 610.3,211.9 610.8,212.7 611.3,213.4 611.7,215.4 612.2,218.1 612.7,220.2 613.2,220.7 613.6,222.5 614.0,224.5 614.5,226.4 614.9,229.8 615.4,233.1 615.8,235.5 616.3,237.2 616.8,238.7 617.3,240.5 617.9,241.9 618.4,243.7 619.0,245.9 619.6,248.0 620.1,249.7 620.7,251.0 621.2,252.7 621.8,254.8 622.4,257.1 622.9,259.2 623.4,261.5 624.0,265.0 624.5,267.6 625.1,268.4 625.7,269.1 626.2,270.3 626.9,272.2 627.5,274.6 628.2,277.1 628.9,279.1 629.7,281.2 630.4,282.7 631.2,283.2 632.0,283.9 632.9,285.6 633.8,288.0 634.8,291.2 635.9,293.6 637.0,294.8 638.1,296.7 639.3,299.0 640.4,302.1 641.6,304.6 642.8,305.5 644.0,306.2 645.2,307.8 646.5,309.4 647.8,309.8 649.3,310.7 651.1,312.7 653.2,313.2 655.2,312.0 657.1,311.4 658.9,310.3 660.6,307.9 662.3,305.2 663.8,303.0 665.3,302.2 666.6,302.1 667.8,300.9 668.9,298.4 669.8,296.2 670.5,295.2 671.1,294.2 671.6,290.6 672.2,288.0 672.7,287.1 673.2,285.3 673.6,283.6 674.2,281.8 674.7,280.8 675.4,279.1 676.0,276.0 676.7,273.4 677.6,271.6 679.0,270.6 680.9,269.2 682.9,268.3 685.0,268.6 687.1,268.6 689.3,268.2 691.4,268.5 693.5,269.1 695.6,268.7 697.8,268.4 699.8,268.3 701.4,267.5 702.8,265.5 704.2,263.2 705.5,261.2 706.8,259.9 708.1,259.4 709.3,258.5 710.5,255.4 711.7,253.6 713.0,252.3 714.4,250.3 716.0,249.1 717.9,250.8 718.8,253.9 719.5,255.5 720.2,256.2 720.9,257.5 721.5,259.1 722.0,260.1 722.5,262.7 723.2,266.3 724.6,267.5 726.3,265.6 727.7,263.4 729.2,261.6 730.8,260.3 732.3,259.8 733.7,258.7 734.8,256.0 735.8,253.3 736.7,253.2 737.5,252.7 738.3,250.4 739.1,246.3 739.9,242.5 740.7,240.9 741.4,240.8 742.0,240.4 742.3,237.7 742.7,235.5 743.0,234.8 743.4,233.3 743.9,231.0 744.6,228.9 745.7,227.7 746.8,225.2 748.0,222.4 749.3,220.3 750.5,217.7 751.8,215.7 753.0,214.3 754.1,212.7 755.1,211.3 756.0,209.7 757.0,208.0 758.1,206.8 759.3,205.7 760.4,203.3 761.6,201.0 762.8,199.2 763.9,197.5 765.0,196.7 766.0,196.6 767.0,194.7 767.9,192.4 768.7,189.4 769.6,186.7 770.4,184.9 771.3,183.0 772.2,181.4 773.1,181.1 774.1,180.7 775.2,178.9 776.3,177.3 777.6,175.0 779.2,172.6 781.1,173.7 782.6,175.2 783.9,177.6 785.0,179.5 786.1,181.7 787.3,184.1 788.9,184.0 790.7,182.2 792.6,182.1 794.6,184.0 796.6,186.6 798.3,188.5 799.2,190.5 799.9,192.4 800.5,193.7 801.1,193.7 801.7,194.6 802.5,197.5 803.6,200.0 804.8,200.4 806.1,201.0 807.3,204.0 808.6,207.3 809.8,209.0 811.0,209.8 811.8,210.5 812.3,212.0 812.6,215.8 812.8,219.4 813.0,221.1 813.2,222.7 813.5,223.3 813.9,224.8 814.4,226.9 815.0,228.6 815.9,230.4 817.3,232.8 818.9,233.4 820.7,233.7 822.5,235.9 824.4,237.0 826.5,236.6 828.6,237.0 830.7,237.7 832.8,237.9 834.8,237.9 836.8,238.2 838.7,240.0 840.7,242.5 842.6,244.0 844.6,244.0 846.7,243.9 848.9,243.6 851.0,242.1 853.1,241.0 855.3,241.7 857.4,243.0 859.5,243.8 861.6,243.9 863.7,243.7 865.7,244.2 867.5,245.2 869.2,245.9 870.9,246.5 872.6,247.6 874.4,249.6 876.3,251.0 878.4,251.3 880.5,251.9 882.6,252.1 884.7,251.8 886.9,251.8 889.0,252.1 891.2,252.2 893.3,251.5 895.4,250.8 897.5,251.0 899.7,253.0 901.7,253.7 903.7,253.6 905.6,255.2 907.5,257.1 909.4,256.8 911.4,256.3 913.3,257.4 915.3,258.9 917.2,260.3 919.1,260.7 921.0,261.1 922.7,263.5 924.4,266.3 926.0,268.1 927.5,269.4 928.8,271.4 930.0,273.0 930.9,274.3 931.9,275.1 932.7,276.0 933.6,278.8 934.4,281.1 935.2,282.6 936.0,284.2 936.7,285.7 937.4,287.5 938.1,289.3 938.8,291.1 939.4,293.0 940.0,294.9 940.5,297.3 941.1,299.8 941.6,301.8 942.2,303.5 942.7,305.4 943.2,307.1 943.7,308.9 944.2,310.8 944.7,312.9 945.1,314.9 945.6,316.8 946.0,318.8 946.4,320.7 946.9,322.7 947.3,324.7 947.7,326.6 948.1,328.6 948.5,330.6 949.0,332.5 949.4,334.5 949.8,336.4 950.2,338.4 950.6,340.4 951.0,342.3 951.5,344.3 951.9,346.3 952.3,348.2 952.7,350.2 953.1,352.2 953.6,354.1 954.0,356.1 954.4,358.0 954.8,360.0 955.2,362.0 955.6,363.9 956.1,365.9 956.5,367.9 956.9,369.8 957.3,371.8 957.7,373.8 958.2,375.7 958.6,377.7 959.0,379.6 959.5,381.6 959.9,383.6 960.3,385.5 960.8,387.5 961.2,389.4 961.6,391.4 962.0,393.4 962.5,395.3 962.9,397.3 963.3,399.3 963.7,401.2 964.1,403.2 964.5,405.2 964.9,407.1 965.3,409.1 965.7,411.1 966.0,413.0 966.4,415.0 966.8,417.0 967.1,418.9 967.5,420.9 967.9,422.9 968.2,424.9 968.6,426.8 969.0,428.8 969.3,430.8 969.7,432.8 970.0,434.7 970.4,436.7 970.7,438.7 971.1,440.7 971.4,442.6 971.8,444.6 972.1,446.6 972.5,448.6 972.8,450.5 973.1,452.5 973.5,454.5 973.8,456.5 974.2,458.4 974.5,460.4 974.9,462.4 975.2,464.4 975.5,466.3 975.9,468.3 976.2,470.3 976.6,472.3 976.9,474.3 977.2,476.2 977.6,478.2 977.9,480.2 978.2,482.2 978.6,484.1 978.9,486.1 979.3,488.1 979.6,490.1 979.9,492.0 980.3,494.0 980.6,496.0 981.0,498.0 981.3,500.0 981.6,501.9 982.0,503.9 982.3,505.9 982.7,507.9 983.0,509.8 983.3,511.8 983.7,513.8 984.0,515.8 984.3,517.7 984.7,519.7 985.0,521.7 985.4,523.7 985.7,525.7 986.0,527.6 986.4,529.6 986.7,531.6 987.1,533.6 987.4,535.5 987.7,537.5 988.1,539.5 988.4,541.5 988.7,543.4 989.1,545.4 989.4,547.4 989.8,549.4 990.1,551.3 990.4,553.3 990.8,555.3 991.1,557.3 991.5,559.3 991.8,561.2 992.1,563.2 992.5,565.2 992.8,567.2 993.1,569.1 993.5,571.1 993.8,573.1 994.2,575.1 994.5,577.0 994.8,579.0 995.2,581.0 995.5,583.0 995.8,585.0 996.2,586.9 996.5,588.9 996.9,590.9 997.2,592.9 997.5,594.8 997.9,596.8 998.2,598.8 998.6,600.8 998.9,602.7 999.2,604.7 999.6,606.7 999.9,608.7 1000.3,610.7 1000.6,612.6 1000.9,614.6 1001.3,616.6 1001.6,618.6 1002.0,620.5 1002.3,622.5 1002.6,624.5 1003.0,626.5 1003.3,628.4 1003.7,630.4 1004.0,632.4 1004.3,634.4 1004.7,636.3 1005.0,638.3 1005.4,640.3 1005.7,642.3 1006.1,644.2 1006.5,646.2 1006.8,648.2 1007.2,650.2 1007.6,652.1 1008.0,654.1 1008.4,656.1 1008.8,658.0 1009.2,660.0 1009.6,662.0 1010.1,663.9 1010.5,665.9 1011.0,667.8 1011.4,669.8 1011.9,671.7 1012.4,673.7 1012.9,675.6 1013.4,677.6 1013.9,679.5 1014.4,681.5 1014.9,683.4 1015.4,685.4 1015.9,687.3 1016.5,689.2 1017.0,691.2 1017.5,693.1 1018.0,695.1 1018.5,697.0 1019.0,699.0 1019.5,700.9 1020.0,702.9 1020.5,704.8 1021.0,706.7 1021.5,708.7 1022.0,710.6 1022.5,712.6 1023.0,714.5 1023.5,716.5 1024.0,718.4 1024.5,720.4 1025.0,722.3 1025.5,724.3 1026.0,726.2 1026.6,728.1 1027.1,730.1 1027.7,732.0 1028.2,733.9 1028.8,735.9 1029.4,737.8 1030.0,739.7 1030.6,741.6 1031.3,743.5 1031.9,745.5 1032.6,747.4 1033.2,749.3 1033.9,751.1 1034.6,753.0 1035.4,754.9 1036.1,756.8 1036.9,758.7 1037.7,760.5 1038.5,762.4 1039.3,764.2 1040.2,766.0 1041.1,767.8 1042.0,769.6 1043.0,771.4 1044.0,773.2 1045.0,774.9 1046.1,776.7 1047.2,778.4 1048.3,780.1 1049.4,781.8 1050.6,783.5 1051.7,785.2 1052.9,786.8 1054.2,788.4 1055.4,790.1 1056.7,791.7 1058.0,793.3 1059.3,794.8 1060.6,796.4 1062.0,798.0 1063.3,799.6 1064.6,801.1 1065.9,802.7 1067.3,804.3 1068.5,805.9 1069.8,807.5 1071.0,809.1 1072.2,810.8 1073.4,812.4 1074.6,814.1 1075.7,815.8 1076.7,817.5 1077.8,819.3 1078.8,821.0 1079.8,822.8 1080.8,824.6 1081.7,826.4 1082.7,828.2 1083.6,830.0 1084.5,831.8 1085.3,833.6 1086.2,835.5 1087.0,837.3 1087.8,839.2 1088.6,841.0 1089.4,842.9 1090.2,844.8 1090.9,846.6 1091.7,848.5 1092.4,850.4 1093.1,852.3 1093.7,854.2 1094.4,856.1 1095.0,858.0 1095.7,859.9 1096.3,861.8 1096.9,863.7 1097.5,865.7 1098.1,867.6 1098.7,869.5 1099.3,871.4 1099.8,873.4 1100.4,875.3 1101.0,877.2 1101.6,879.2 1102.2,881.1 1102.8,883.0 1103.4,884.9 1104.0,886.9 1104.6,888.8 1105.2,890.7 1105.8,892.6 1106.4,894.5 1107.0,896.5 1107.6,898.4 1108.2,900.3 1108.8,902.2 1109.5,904.1 1110.1,906.0 1110.8,907.9 1111.5,909.8 1112.2,911.7 1112.9,913.6 1113.6,915.5 1114.3,917.4 1115.1,919.3 1115.8,921.1 1116.6,923.0 1117.4,924.8 1118.2,926.7 1119.1,928.5 1119.9,930.4 1120.8,932.2 1121.6,934.0 1122.5,935.8 1123.5,937.7 1124.4,939.5 1125.3,941.3 1126.3,943.0 1127.3,944.8 1128.3,946.6 1129.3,948.4 1130.3,950.1 1131.3,951.9 1132.3,953.7 1133.3,955.4 1134.4,957.2 1135.4,958.9 1136.4,960.7 1137.5,962.4 1138.5,964.2 1139.5,966.0 1140.5,967.7 1141.5,969.5 1142.6,971.3 1143.6,973.0 1144.6,974.8 1145.6,976.6 1146.6,978.3 1147.6,980.1 1148.7,981.8 1149.7,983.6 1150.7,985.4 1151.8,987.1 1152.8,988.8 1153.9,990.6 1155.0,992.3 1156.2,994.0 1157.3,995.6 1158.5,997.3 1159.7,998.9 1161.0,1000.5 1162.3,1002.1 1163.7,1003.6 1165.1,1005.1 1166.5,1006.6 1168.0,1008.0 1169.5,1009.4 1171.0,1010.8 1172.6,1012.2 1174.1,1013.6 1175.7,1014.9 1177.3,1016.3 1178.9,1017.6 1180.5,1019.0 1182.1,1020.3 1183.7,1021.6 1185.3,1022.9 1186.9,1024.3 1188.6,1025.6 1190.2,1026.9 1191.8,1028.2 1193.5,1029.4 1195.1,1030.7 1196.8,1032.0 1198.5,1033.2 1200.2,1034.5 1201.8,1035.7 1203.5,1037.0 1205.3,1038.2 1207.0,1039.4 1208.7,1040.6 1210.4,1041.8 1212.2,1042.9 1213.9,1044.1 1215.7,1045.2 1217.5,1046.4 1219.2,1047.5 1221.0,1048.6 1222.8,1049.7 1224.6,1050.8 1226.4,1051.9 1228.2,1053.0 1230.1,1054.0 1231.9,1055.1 1233.7,1056.1 1235.6,1057.2 1237.4,1058.2 1239.2,1059.3 1241.1,1060.3 1242.9,1061.3 1244.8,1062.4 1246.6,1063.4 1248.5,1064.4 1250.3,1065.4 1252.2,1066.5 1254.0,1067.5 1255.9,1068.5 1257.7,1069.5 1259.6,1070.6 1261.4,1071.6 1263.3,1072.6 1265.1,1073.6 1267.0,1074.6 1268.8,1075.7 1270.7,1076.7 1272.5,1077.7 1274.4,1078.7 1276.3,1079.7 1278.2,1080.6 1280.0,1081.6 1281.9,1082.6 1283.8,1083.6 1285.7,1084.5 1287.6,1085.5 1289.5,1086.4 1291.3,1087.4 1293.2,1088.3 1295.1,1089.3 1297.0,1090.2 1299.0,1091.1 1300.9,1092.1 1302.8,1093.0 1304.7,1093.9 1306.6,1094.8 1308.5,1095.7 1310.5,1096.5 1312.4,1097.4 1314.4,1098.3 1316.3,1099.2 1318.2,1100.0 1320.2,1100.9 1322.1,1101.7 1324.1,1102.6 1326.0,1103.4 1328.0,1104.3 1329.9,1105.1 1331.9,1106.0 1333.8,1106.8 1335.8,1107.6 1337.8,1108.4 1339.7,1109.2 1341.7,1110.0 1343.7,1110.8 1345.6,1111.6 1347.6,1112.4 1349.6,1113.2 1351.6,1114.0 1353.6,1114.8 1355.5,1115.6 1357.5,1116.3 1359.5,1117.1 1361.5,1117.9 1363.5,1118.6 1365.5,1119.4 1367.5,1120.1 1369.5,1120.9 1371.5,1121.6 1373.5,1122.4 1375.5,1123.1 1377.5,1123.8 1379.5,1124.5 1381.5,1125.3 1383.5,1126.0 1385.5,1126.7 1387.6,1127.4 1389.6,1128.1 1391.6,1128.8 1393.6,1129.4 1395.6,1130.1 1397.7,1130.8 1399.7,1131.4 1401.7,1132.1 1403.8,1132.7 1405.8,1133.3 1407.9,1134.0 1409.9,1134.6 1412.0,1135.2 1414.0,1135.8 1416.1,1136.4 1418.1,1136.9 1420.2,1137.5 1422.3,1138.1 1424.3,1138.6 1426.4,1139.2 1428.5,1139.7 1430.5,1140.3 1432.6,1140.8 1434.7,1141.4 1436.8,1141.9 1438.8,1142.4 1440.9,1142.9 1443.0,1143.4 1445.1,1143.9 1447.2,1144.4 1449.3,1144.9 1451.3,1145.4 1453.4,1145.9 1455.5,1146.4 1457.6,1146.8 1459.7,1147.3 1461.8,1147.8 1463.9,1148.2 1466.0,1148.7 1468.1,1149.1 1470.2,1149.5 1472.3,1150.0 1474.4,1150.4 1476.5,1150.8 1478.6,1151.2 1480.7,1151.6 1482.8,1152.0 1484.9,1152.4 1487.1,1152.8 1489.2,1153.2 1491.3,1153.5 1493.4,1153.9 1495.5,1154.3 1497.6,1154.7 1499.7,1155.0 1501.9,1155.4 1504.0,1155.8 1506.1,1156.1 1508.2,1156.5 1510.3,1156.8 1512.4,1157.2 1514.6,1157.5 1516.7,1157.9 1518.8,1158.2 1520.9,1158.6 1523.0,1158.9 1525.2,1159.2 1527.3,1159.6 1529.4,1159.9 1531.5,1160.3 1533.7,1160.6 1535.8,1160.9 1537.9,1161.3 1540.0,1161.6 1542.1,1161.9 1544.3,1162.3 1546.4,1162.6 1548.5,1162.9 1550.6,1163.3 1552.8,1163.6 1554.9,1163.9 1557.0,1164.3 1559.1,1164.6 1561.2,1164.9 1563.4,1165.3 1565.5,1165.6 1567.6,1165.9 1569.7,1166.3 1571.9,1166.6 1574.0,1166.9 1576.1,1167.2 1578.2,1167.5 1580.4,1167.9 1582.5,1168.2 1584.6,1168.5 1586.7,1168.8 1588.9,1169.1 1591.0,1169.4 1593.1,1169.7 1595.3,1169.9 1597.4,1170.2 1599.5,1170.5 1601.6,1170.8 1603.8,1171.1 1605.9,1171.3 1608.0,1171.6 1610.2,1171.8 1612.3,1172.1 1614.4,1172.4 1616.6,1172.6 1618.7,1172.9 1620.9,1173.1 1623.0,1173.4 1625.1,1173.6 1627.3,1173.9 1629.4,1174.1 1631.5,1174.3 1633.7,1174.6 1635.8,1174.8 1638.0,1175.0 1640.1,1175.2 1642.2,1175.4 1644.4,1175.6 1646.5,1175.8 1648.7,1176.0 1650.8,1176.2 1652.9,1176.4 1655.1,1176.6 1657.2,1176.8 1659.4,1177.0 1661.5,1177.2 1663.7,1177.4 1665.8,1177.5 1667.9,1177.7 1670.1,1177.9 1672.2,1178.1 1674.4,1178.2 1676.5,1178.4 1678.7,1178.6 1680.8,1178.7 1683.0,1178.9 1685.1,1179.1 1687.2,1179.2 1689.4,1179.4 1691.5,1179.5 1693.7,1179.7 1695.8,1179.8 1698.0,1180.0 1700.1,1180.1 1702.3,1180.3 1704.4,1180.4 1706.6,1180.6 1708.7,1180.7 1710.9,1180.9 1713.0,1181.0 1715.1,1181.2 1717.3,1181.3 1719.4,1181.5 1721.6,1181.6 1723.7,1181.8 1725.9,1181.9 1728.0,1182.0 1730.2,1182.2 1732.3,1182.3 1734.5,1182.4 1736.6,1182.6 1738.8,1182.7 1740.9,1182.8 1743.1,1183.0 1745.2,1183.1 1747.4,1183.2 1749.5,1183.4 1751.7,1183.5 1753.8,1183.6 1755.9,1183.7 1758.1,1183.9 1760.2,1184.0 1762.4,1184.1 1764.5,1184.2 1766.7,1184.4 1768.8,1184.5 1771.0,1184.6 1773.1,1184.7 1775.3,1184.8 1777.4,1185.0 1779.6,1185.1 1781.7,1185.2 1783.9,1185.3 1786.0,1185.4 1788.2,1185.5 1790.3,1185.6 1792.5,1185.8 1794.6,1185.9 1796.8,1186.0 1798.9,1186.1 1801.1,1186.2 1803.2,1186.3 1805.4,1186.4 1807.5,1186.5 1809.7,1186.6 1811.8,1186.6 1814.0,1186.7 1816.1,1186.8 1818.3,1186.9 1820.4,1187.0 1822.6,1187.1 1824.7,1187.1 1826.9,1187.2 1829.0,1187.3 1831.2,1187.4 1833.3,1187.4 1835.5,1187.5 1837.6,1187.6 1839.8,1187.6 1841.9,1187.7 1844.1,1187.8 1846.2,1187.8 1848.4,1187.9 1850.5,1188.0 1852.7,1188.0 1854.8,1188.1 1857.0,1188.2 1859.1,1188.2 1861.3,1188.3"/>
<path class="curve" style="stroke-width:13.70" d="M211.1,350.3 211.6,350.4 212.1,349.5 212.6,349.1 213.1,348.1 213.6,343.5 214.1,338.4 214.5,336.9 215.0,336.0 215.4,333.0 215.9,331.9 216.4,330.2 216.8,327.2 217.3,326.3 217.8,324.9 218.4,321.5 218.9,319.6 219.5,317.9 220.1,314.4 220.7,313.2 221.3,313.7 222.0,310.8 222.7,307.3 223.4,307.8 224.2,307.5 225.1,303.8 226.1,303.0 227.1,302.1 228.1,299.5 229.2,297.3 230.3,296.1 231.3,296.9 232.4,295.0 233.4,289.9 234.5,287.1 235.5,285.6 236.5,283.7 237.6,281.9 238.6,279.9 239.7,279.0 240.8,277.4 241.9,276.1 243.0,275.6 244.1,273.7 245.3,270.8 246.5,270.5 247.7,269.6 248.9,267.8 250.2,266.1 251.7,262.3 253.5,260.5 255.7,261.3 257.7,262.7 259.7,265.4 261.6,267.1 263.3,267.5 264.8,265.8 266.1,267.0 267.3,270.4 268.4,271.8 269.5,273.7 270.7,274.9 271.9,277.6 273.3,280.2 274.9,279.4 276.6,278.6 278.4,281.1 280.1,284.7 281.9,286.2 283.7,287.1 285.5,287.6 287.3,287.9 289.1,287.7 290.8,288.4 292.5,290.9 294.0,291.3 295.0,291.2 295.8,295.5 296.4,301.1 297.0,303.0 297.6,301.7 298.2,303.6 299.1,307.2 300.3,308.6 301.7,308.8 303.2,310.2 304.8,311.1 306.4,312.1 308.0,313.4 309.6,315.2 311.2,316.7 312.9,318.4 314.5,320.7 316.3,323.8 318.1,325.4 320.1,322.8 321.7,319.2 323.0,317.2 324.5,314.7 326.4,314.1 327.8,317.2 329.0,320.5 330.1,323.6 331.2,325.8 332.3,328.2 333.3,329.4 334.4,329.0 335.4,329.7 336.3,331.4 337.3,334.1 338.5,336.8 340.2,335.6 341.5,333.1 342.9,332.6 344.8,334.2 346.7,334.2 348.4,333.9 350.1,334.8 351.6,336.5 353.0,337.0 354.2,336.9 355.2,336.8 356.2,339.8 357.2,345.2 358.2,347.7 359.2,347.8 360.2,351.0 361.3,356.3 362.5,359.5 363.7,357.0 364.9,355.7 366.3,358.1 367.8,362.5 369.7,364.3 371.5,363.1 372.9,363.7 374.1,362.4 375.4,357.9 376.7,355.0 378.2,352.4 380.1,350.5 382.0,351.3 383.6,352.2 385.2,353.3 386.8,356.4 388.6,358.4 390.6,357.3 392.7,356.8 394.9,357.7 397.0,359.4 399.1,360.0 401.1,359.4 403.1,356.6 405.2,355.0 407.2,357.2 409.0,359.8 410.7,362.1 412.3,360.9 413.8,357.2 415.1,358.5 416.3,362.9 417.3,364.1 418.3,364.6 419.3,369.5 420.3,375.1 421.3,376.4 422.3,376.4 423.4,379.2 424.5,382.2 425.8,384.1 427.0,386.2 428.2,387.7 429.5,391.6 430.8,393.3 432.1,392.5 433.5,392.3 435.0,392.6 436.5,394.0 438.0,397.1 439.5,399.4 440.8,400.3 441.9,401.1 442.8,402.2 443.6,403.3 444.3,404.9 445.0,407.1 445.6,409.5 446.3,411.6 446.9,413.8 447.5,415.8 448.1,418.2 448.7,420.3 449.2,422.0 449.8,423.6 450.3,425.3 450.8,427.2 451.3,429.2 451.8,431.2 452.2,433.2 452.7,435.2 453.1,437.3 453.5,439.0 453.8,440.7 454.2,443.0 454.6,445.3 455.0,446.8 455.4,448.7 455.8,451.2 456.2,453.0 456.6,455.1 457.0,457.0 457.5,458.4 457.9,459.9 458.4,461.1 458.9,463.1 459.5,465.5 460.2,467.2 460.9,469.9 461.6,473.9 462.4,476.8 463.1,478.2 463.9,479.1 464.8,479.8 465.6,480.9 466.5,481.3 467.3,482.4 468.2,485.9 469.1,489.2 470.0,491.0 470.9,492.3 471.8,494.3 472.8,495.3 473.8,496.4 474.7,499.1 475.7,501.9 476.7,503.6 477.8,504.9 478.8,506.3 479.8,508.8 480.9,510.7 482.0,511.6 483.0,512.9 484.6,512.4 485.5,510.6 486.3,508.7 486.9,507.5 487.6,505.6 488.2,503.2 488.8,501.5 489.5,499.5 490.2,497.6 490.9,495.9 491.7,494.5 492.7,493.3 493.8,492.4 495.1,490.7 496.3,487.9 497.6,484.4 498.9,482.0 500.0,482.0 501.0,481.9 501.9,480.0 502.6,478.9 503.4,477.0 504.1,473.9 504.8,472.1 505.5,470.8 506.1,468.2 506.7,465.5 507.2,463.5 507.6,462.0 507.9,460.8 508.2,459.5 508.6,457.6 508.9,455.7 509.5,454.1 510.7,452.9 512.2,450.3 513.9,447.6 515.8,445.4 517.7,444.0 519.8,444.3 521.9,445.7 523.8,446.7 525.7,447.7 527.4,447.6 529.0,448.8 530.4,451.8 531.8,453.8 533.1,455.3 534.2,458.3 535.1,460.8 535.9,461.4 536.8,462.4 537.9,464.8 539.4,464.1 540.2,462.0 540.8,460.2 541.4,458.5 541.9,457.1 542.4,455.0 542.8,453.6 543.1,452.4 543.3,450.7 543.6,448.1 543.8,445.3 544.0,442.3 544.3,439.8 544.5,438.1 544.8,436.6 545.2,434.9 545.5,433.4 545.9,430.5 546.3,427.4 546.7,426.0 547.1,425.1 547.5,422.9 547.8,420.4 548.1,417.9 548.4,416.8 548.7,415.8 549.0,413.9 549.2,411.2 549.5,407.5 549.8,404.4 550.1,403.3 550.4,403.1 550.8,401.9 551.2,399.7 551.6,397.2 552.1,394.9 552.5,392.2 553.0,390.3 553.5,388.2 553.9,386.8 554.4,386.0 554.9,384.3 555.3,381.7 555.8,379.9 556.3,379.0 556.7,376.8 557.2,373.7 557.7,371.7 558.1,370.1 558.6,368.8 559.0,366.9 559.4,364.5 559.8,362.0 560.2,360.1 560.6,358.7 561.0,355.7 561.4,352.1 561.7,350.7 562.1,349.5 562.5,347.1 562.8,344.7 563.2,343.2 563.6,341.7 563.9,339.8 564.3,338.8 564.7,338.1 565.2,336.3 565.6,333.8 566.1,331.3 566.6,329.6 567.1,327.4 567.5,325.0 567.9,322.6 568.2,321.0 568.5,318.7 568.8,317.0 569.0,315.5 569.2,312.9 569.5,310.3 569.7,308.9 569.9,308.1 570.1,306.4 570.3,303.5 570.5,300.4 570.7,298.4 571.0,297.3 571.2,295.2 571.4,292.2 571.6,290.2 571.9,289.5 572.1,287.9 572.4,284.9 572.6,282.6 572.9,281.6 573.2,279.5 573.4,276.2 573.7,272.8 574.0,271.1 574.3,270.2 574.6,268.4 574.9,265.3 575.2,262.3 575.4,260.4 575.7,259.7 576.0,258.8 576.3,256.3 576.6,253.1 576.9,251.5 577.2,250.8 577.5,249.9 577.7,247.8 578.0,244.7 578.3,242.1 578.6,241.0 578.8,239.3 579.1,236.8 579.4,234.3 579.7,232.3 579.9,230.3 580.2,228.1 580.5,226.4 580.8,225.5 581.0,223.7 581.3,220.6 581.6,217.7 581.9,215.9 582.2,215.0 582.5,214.2 582.9,212.4 583.2,210.1 583.6,206.4 584.1,203.4 584.6,201.6 585.1,200.4 585.6,200.0 586.2,198.7 586.8,196.0 587.2,194.5 587.7,194.1 589.3,193.6 591.3,193.3 593.2,194.1 595.0,195.1 596.8,195.5 598.4,196.2 599.4,197.1 600.2,198.3 600.9,201.0 602.0,204.3 604.0,205.4 606.1,204.5 608.0,204.7 609.0,207.3 609.7,209.8 610.3,211.9 610.8,212.7 611.3,213.4 611.7,215.4 612.2,218.1 612.7,220.2 613.2,220.7 613.6,222.5 614.0,224.5 614.5,226.4 614.9,229.8 615.4,233.1 615.8,235.5 616.3,237.2 616.8,238.7 617.3,240.5 617.9,241.9 618.4,243.7 619.0,245.9 619.6,248.0 620.1,249.7 620.7,251.0 621.2,252.7 621.8,254.8 622.4,257.1 622.9,259.2 623.4,261.5 624.0,265.0 624.5,267.6 625.1,268.4 625.7,269.1 626.2,270.3 626.9,272.2 627.5,274.6 628.2,277.1 628.9,279.1 629.7,281.2 630.4,282.7 631.2,283.2 632.0,283.9 632.9,285.6 633.8,288.0 634.8,291.2 635.9,293.6 637.0,294.8 638.1,296.7 639.3,299.0 640.4,302.1 641.6,304.6 642.8,305.5 644.0,306.2 645.2,307.8 646.5,309.4 647.8,309.8 649.3,310.7 651.1,312.7 653.2,313.2 655.2,312.0 657.1,311.4 658.9,310.3 660.6,307.9 662.3,305.2 663.8,303.0 665.3,302.2 666.6,302.1 667.8,300.9 668.9,298.4 669.8,296.2 670.5,295.2 671.1,294.2 671.6,290.6 672.2,288.0 672.7,287.1 673.2,285.3 673.6,283.6 674.2,281.8 674.7,280.8 675.4,279.1 676.0,276.0 676.7,273.4 677.6,271.6 679.0,270.6 680.9,269.2 682.9,268.3 685.0,268.6 687.1,268.6 689.3,268.2 691.4,268.5 693.5,269.1 695.6,268.7 697.8,268.4 699.8,268.3 701.4,267.5 702.8,265.5 704.2,263.2 705.5,261.2 706.8,259.9 708.1,259.4 709.3,258.5 710.5,255.4 711.7,253.6 713.0,252.3 714.4,250.3 716.0,249.1 717.9,250.8 718.8,253.9 719.5,255.5 720.2,256.2 720.9,257.5 721.5,259.1 722.0,260.1 722.5,262.7 723.2,266.3 724.6,267.5 726.3,265.6 727.7,263.4 729.2,261.6 730.8,260.3 732.3,259.8 733.7,258.7 734.8,256.0 735.8,253.3 736.7,253.2 737.5,252.7 738.3,250.4 739.1,246.3 739.9,242.5 740.7,240.9 741.4,240.8 742.0,240.4 742.3,237.7 742.7,235.5 743.0,234.8 743.4,233.3 743.9,231.0 744.6,228.9 745.7,227.7 746.8,225.2 748.0,222.4 749.3,220.3 750.5,217.7 751.8,215.7 753.0,214.3 754.1,212.7 755.1,211.3 756.0,209.7 757.0,208.0 758.1,206.8 759.3,205.7 760.4,203.3 761.6,201.0 762.8,199.2 763.9,197.5 765.0,196.7 766.0,196.6 767.0,194.7 767.9,192.4 768.7,189.4 769.6,186.7 770.4,184.9 771.3,183.0 772.2,181.4 773.1,181.1 774.1,180.7 775.2,178.9 776.3,177.3 777.6,175.0 779.2,172.6 781.1,173.7 782.6,175.2 783.9,177.6 785.0,179.5 786.1,181.7 787.3,184.1 788.9,184.0 790.7,182.2 792.6,182.1 794.6,184.0 796.6,186.6 798.3,188.5 799.2,190.5 799.9,192.4 800.5,193.7 801.1,193.7 801.7,194.6 802.5,197.5 803.6,200.0 804.8,200.4 806.1,201.0 807.3,204.0 808.6,207.3 809.8,209.0 811.0,209.8 811.8,210.5 812.3,212.0 812.6,215.8 812.8,219.4 813.0,221.1 813.2,222.7 813.5,223.3 813.9,224.8 814.4,226.9 815.0,228.6 815.9,230.4 817.3,232.8 818.9,233.4 820.7,233.7 822.5,235.9 824.4,237.0 826.5,236.6 828.6,237.0 830.7,237.7 832.8,237.9 834.8,237.9 836.8,238.2 838.7,240.0 840.7,242.5 842.6,244.0 844.6,244.0 846.7,243.9 848.9,243.6 851.0,242.1 853.1,241.0 855.3,241.7 857.4,243.0 859.5,243.8 861.6,243.9 863.7,243.7 865.7,244.2 867.5,245.2 869.2,245.9 870.9,246.5 872.6,247.6 874.4,249.6 876.3,251.0 878.4,251.3 880.5,251.9 882.6,252.1 884.7,251.8 886.9,251.8 889.0,252.1 891.2,252.2 893.3,251.5 895.4,250.8 897.5,251.0 899.7,253.0 901.7,253.7 903.7,253.6 905.6,255.2 907.5,257.1 909.4,256.8 911.4,256.3 913.3,257.4 915.3,258.9 917.2,260.3 919.1,260.7 921.0,261.1 922.7,263.5 924.4,266.3 926.0,268.1 927.5,269.4 928.8,271.4 930.0,273.0 930.9,274.3 931.9,275.1 932.7,276.0 933.6,278.8 934.4,281.1 935.2,282.6 936.0,284.2 936.7,285.7 937.4,287.5 938.1,289.3 938.8,291.1 939.4,293.0 940.0,294.9 940.5,297.3 941.1,299.8 941.6,301.8 942.2,303.5 942.7,305.4 943.2,307.1 943.7,308.9 944.2,310.8 944.7,312.9 945.1,314.9 945.6,316.8 946.0,318.8 946.4,320.7 946.9,322.7 947.3,324.7 947.7,326.6 948.1,328.6 948.5,330.6 949.0,332.5 949.4,334.5 949.8,336.4 950.2,338.4 950.6,340.4 951.0,342.3 951.5,344.3"/>
</g>
</g></g>
<g id="labels">
<text class="tick" x="159.5" y="1279.3" text-anchor="end">0.0</text>
<text class="tick" x="159.5" y="1053.3" text-anchor="end">0.1</text>
<text class="tick" x="159.5" y="827.3" text-anchor="end">0.2</text>
<text class="tick" x="159.5" y="601.3" text-anchor="end">0.3</text>
<text class="tick" x="159.5" y="375.3" text-anchor="end">0.4</text>
<text class="tick" x="159.5" y="149.3" text-anchor="end">0.5</text>
<text class="tick" x="212.0" y="1343.3" text-anchor="middle">200</text>
<text class="tick" x="549.3" y="1343.3" text-anchor="middle">400</text>
<text class="tick" x="886.6" y="1343.3" text-anchor="middle">600</text>
<text class="tick" x="1223.9" y="1343.3" text-anchor="middle">800</text>
<text class="tick" x="1561.2" y="1343.3" text-anchor="middle">1000</text>
<text class="tick" x="1898.5" y="1343.3" text-anchor="middle">1200</text>
<text class="lbl" x="1048" y="1438.8" text-anchor="middle">Wavelength (nm)</text>
<text class="lbl" transform="translate(40.6,530.5) rotate(-90) scale(1,0.945)" text-anchor="middle">Absorbance (a.u.)</text>
<text x="799" y="202.2" textLength="273" lengthAdjust="spacingAndGlyphs" style="font-size:62px">Vis-region</text>
<text x="225.2" y="825.7" textLength="268.3" lengthAdjust="spacingAndGlyphs" style="font-size:58.8px">UV- region</text>
<text x="1481" y="122" textLength="113.6" lengthAdjust="spacingAndGlyphs" style="font-size:95.5px">(a)</text>
</g>
<g id="legend">
<line x1="1355" y1="422.8" x2="1395.5" y2="422.8" stroke="#ff0000" stroke-width="14" stroke-linecap="round"/>
<text class="leg" x="1426" y="439.5" textLength="253.4" lengthAdjust="spacingAndGlyphs">PVNiMC0</text>
<line x1="1355" y1="493.3" x2="1395.5" y2="493.3" stroke="#0000ff" stroke-width="14" stroke-linecap="round"/>
<text class="leg" x="1426" y="509.5" textLength="253.4" lengthAdjust="spacingAndGlyphs">PVNiMC1</text>
<line x1="1355" y1="564.3" x2="1395.5" y2="564.3" stroke="#ff1493" stroke-width="14" stroke-linecap="round"/>
<text class="leg" x="1426" y="580.5" textLength="253.4" lengthAdjust="spacingAndGlyphs">PVNiMC2</text>
<line x1="1355" y1="635.0" x2="1395.5" y2="635.0" stroke="#000080" stroke-width="14" stroke-linecap="round"/>
<text class="leg" x="1426" y="651.7" textLength="253.4" lengthAdjust="spacingAndGlyphs">PVNiMC3</text>
</g>
</svg>
</body>
</html>
